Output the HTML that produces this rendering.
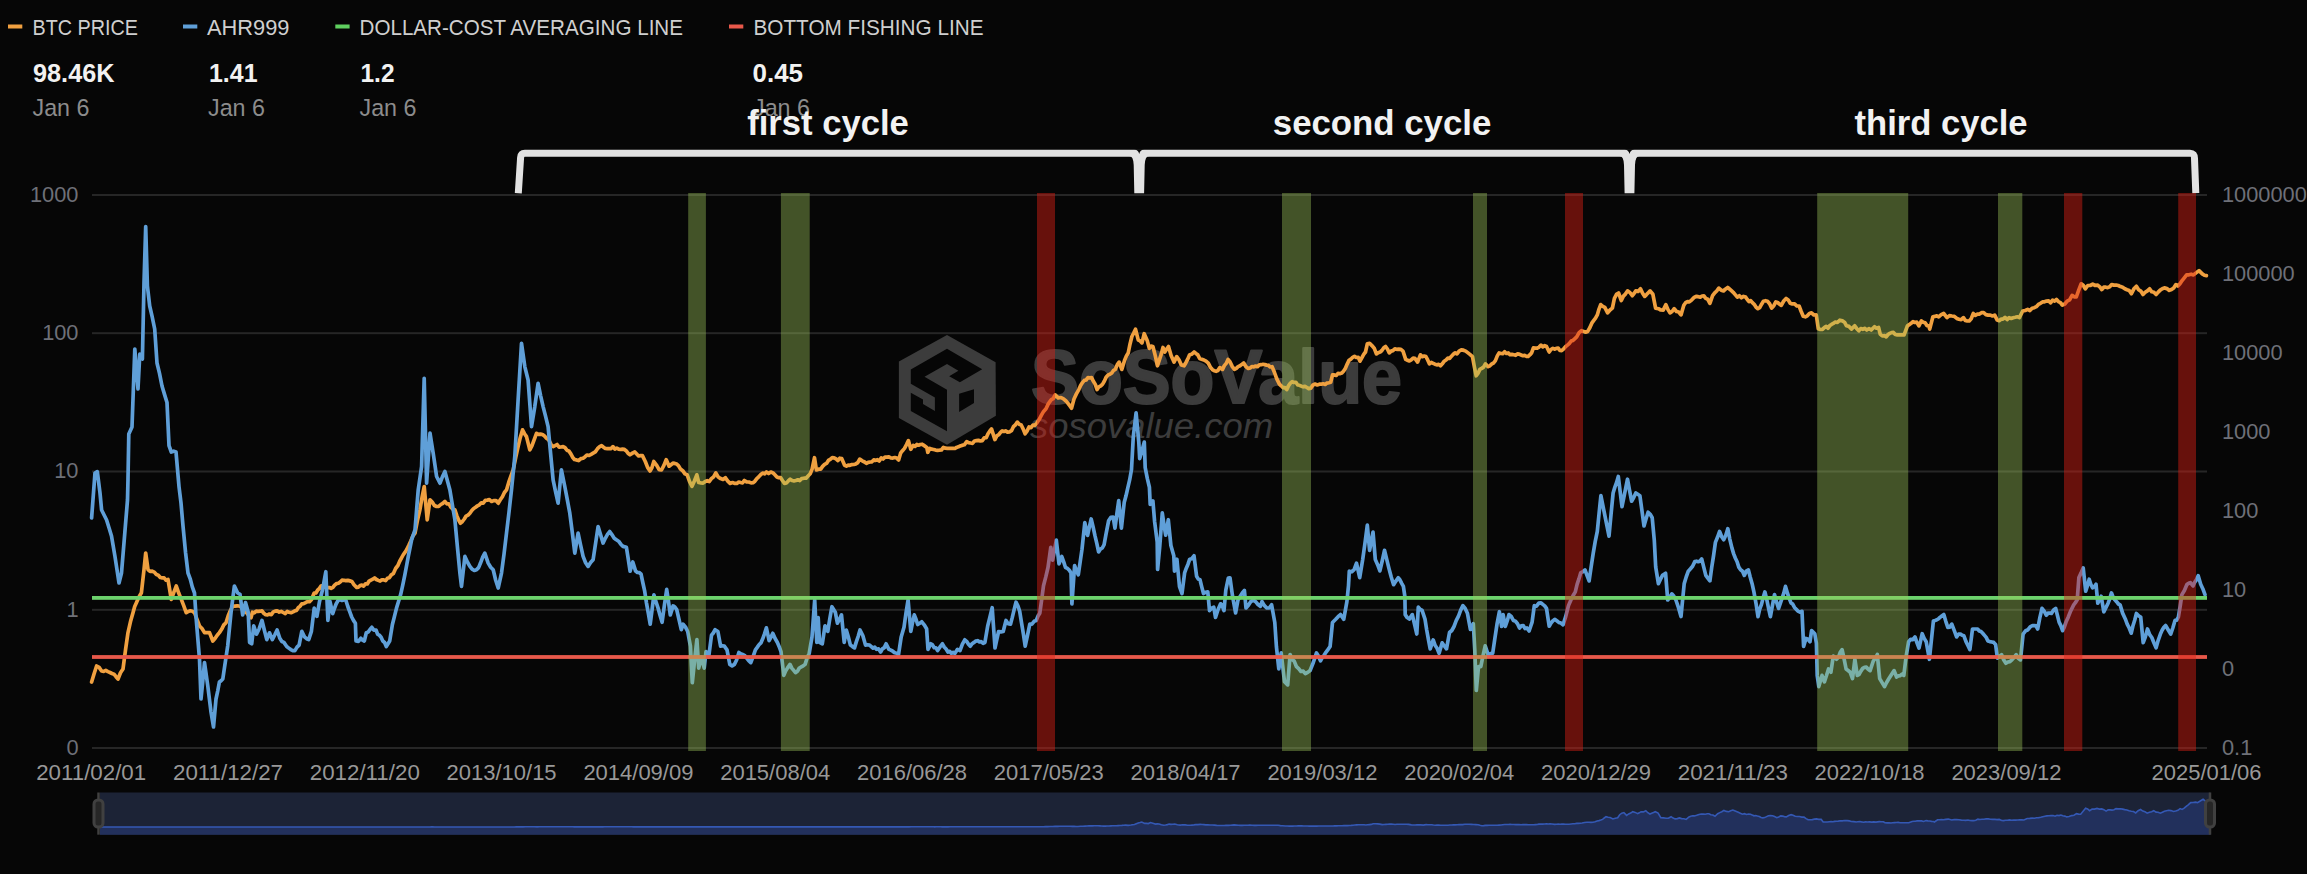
<!DOCTYPE html>
<html><head><meta charset="utf-8"><style>
html,body{margin:0;padding:0;background:#060606;width:2307px;height:874px;overflow:hidden}
svg{display:block}
text{font-family:"Liberation Sans", sans-serif}
</style></head><body>
<svg width="2307" height="874" viewBox="0 0 2307 874">
<rect width="2307" height="874" fill="#060606"/>

<rect x="8" y="24.5" width="14.3" height="4" fill="#f0a040"/>
<text x="32.5" y="34.6" font-size="22.6" font-weight="400" font-style="normal" fill="#cfcfcf" text-anchor="start" textLength="105.5" lengthAdjust="spacingAndGlyphs" >BTC PRICE</text>
<rect x="183" y="24.5" width="14.3" height="4" fill="#5f9fd8"/>
<text x="207" y="34.6" font-size="22.6" font-weight="400" font-style="normal" fill="#cfcfcf" text-anchor="start" textLength="82.5" lengthAdjust="spacingAndGlyphs" >AHR999</text>
<rect x="335.3" y="24.5" width="14.3" height="4" fill="#5fcf5f"/>
<text x="359.5" y="34.6" font-size="22.6" font-weight="400" font-style="normal" fill="#cfcfcf" text-anchor="start" textLength="323.5" lengthAdjust="spacingAndGlyphs" >DOLLAR-COST AVERAGING LINE</text>
<rect x="729" y="24.5" width="14.3" height="4" fill="#e8584a"/>
<text x="753.5" y="34.6" font-size="22.6" font-weight="400" font-style="normal" fill="#cfcfcf" text-anchor="start" textLength="230.0" lengthAdjust="spacingAndGlyphs" >BOTTOM FISHING LINE</text>
<text x="33" y="82.2" font-size="25.2" font-weight="700" font-style="normal" fill="#f2f2f2" text-anchor="start" textLength="81.5" lengthAdjust="spacingAndGlyphs" >98.46K</text>
<text x="209" y="82.2" font-size="25.2" font-weight="700" font-style="normal" fill="#f2f2f2" text-anchor="start" textLength="48.5" lengthAdjust="spacingAndGlyphs" >1.41</text>
<text x="360.5" y="82.2" font-size="25.2" font-weight="700" font-style="normal" fill="#f2f2f2" text-anchor="start" textLength="34" lengthAdjust="spacingAndGlyphs" >1.2</text>
<text x="752.5" y="82.2" font-size="25.2" font-weight="700" font-style="normal" fill="#f2f2f2" text-anchor="start" textLength="50.5" lengthAdjust="spacingAndGlyphs" >0.45</text>
<text x="32.5" y="116.3" font-size="24.5" font-weight="400" font-style="normal" fill="#8c8c8c" text-anchor="start" textLength="57" lengthAdjust="spacingAndGlyphs" >Jan 6</text>
<text x="208" y="116.3" font-size="24.5" font-weight="400" font-style="normal" fill="#8c8c8c" text-anchor="start" textLength="57" lengthAdjust="spacingAndGlyphs" >Jan 6</text>
<text x="359.5" y="116.3" font-size="24.5" font-weight="400" font-style="normal" fill="#8c8c8c" text-anchor="start" textLength="57" lengthAdjust="spacingAndGlyphs" >Jan 6</text>
<text x="753" y="116.3" font-size="24.5" font-weight="400" font-style="normal" fill="#8c8c8c" text-anchor="start" textLength="57" lengthAdjust="spacingAndGlyphs" >Jan 6</text>
<text x="747.2" y="135" font-size="35" font-weight="700" font-style="normal" fill="#f2f2f2" text-anchor="start" textLength="161.69999999999993" lengthAdjust="spacingAndGlyphs" >first cycle</text>
<text x="1272.8" y="135" font-size="35" font-weight="700" font-style="normal" fill="#f2f2f2" text-anchor="start" textLength="218.5" lengthAdjust="spacingAndGlyphs" >second cycle</text>
<text x="1854.5" y="135" font-size="35" font-weight="700" font-style="normal" fill="#f2f2f2" text-anchor="start" textLength="173.0" lengthAdjust="spacingAndGlyphs" >third cycle</text>
<path d="M518.3 193.2 L520.6 157.5 Q520.9 153.2 524.8 153.2 L2190 153.2 Q2194.6 153.2 2194.5 158.5 L2195.8 193.2" fill="none" stroke="#e2e2e2" stroke-width="7"/>
<path d="M1129.2 156 Q1133.4 156 1133.7 165 L1134.3 193.2 L1144.1000000000001 193.2 L1144.7 165 Q1145.0 156 1149.2 156 Z" fill="#e2e2e2"/>
<path d="M1134.2 149.2 Q1138.2 149.6 1139.2 154 Q1140.2 149.6 1144.2 149.2 Z" fill="#060606"/>
<path d="M1619.5 156 Q1623.7 156 1624.0 165 L1624.6 193.2 L1634.4 193.2 L1635.0 165 Q1635.3 156 1639.5 156 Z" fill="#e2e2e2"/>
<path d="M1624.5 149.2 Q1628.5 149.6 1629.5 154 Q1630.5 149.6 1634.5 149.2 Z" fill="#060606"/>
<rect x="92" y="194" width="2115" height="2" fill="#262626"/>
<rect x="92" y="332.2" width="2115" height="2" fill="#262626"/>
<rect x="92" y="470.5" width="2115" height="2" fill="#262626"/>
<rect x="92" y="608.8" width="2115" height="2" fill="#262626"/>
<rect x="92" y="747" width="2115" height="2" fill="#262626"/>
<polygon points="947.0,335.1 995.6,362.2 995.9,415.7 947.0,444.7 898.9,417.9 898.9,361.4" fill="#3c3c3c"/>
<polygon points="947.0,348.8 982.2,369.3 959.9,382.2 949.2,376.3 958.4,370.8 947.0,364.0 924.5,376.7 947.0,389.7 947.0,431.3 910.8,410.9 910.8,392.7 923.0,399.6 923.0,404.1 934.9,410.9 934.9,397.6 910.8,383.7 910.8,369.6" fill="#060606"/>
<polygon points="959.1,393.7 974.0,389.2 974.0,403.1 959.1,412.0" fill="#060606"/>
<text x="1031" y="402.8" font-size="76" font-weight="700" font-style="normal" fill="#3c3c3c" text-anchor="start" textLength="371" lengthAdjust="spacingAndGlyphs" stroke="#3c3c3c" stroke-width="2.2" stroke-linejoin="round">SoSoValue</text>
<text x="1030" y="437.8" font-size="35" font-weight="400" font-style="italic" fill="#3c3c3c" text-anchor="start" textLength="243" lengthAdjust="spacingAndGlyphs" >sosovalue.com</text>
<path d="M91.6 682.0 L94.1 673.7 L96.6 666.0 L99.1 667.4 L101.6 671.0 L103.7 671.4 L105.8 670.4 L107.9 671.6 L110.0 672.5 L112.0 673.5 L114.0 674.2 L116.0 676.7 L118.0 679.0 L120.5 672.7 L123.0 669.0 L125.5 650.1 L128.0 632.6 L130.5 621.6 L133.0 612.7 L134.7 606.5 L136.4 602.8 L138.9 597.1 L141.4 592.8 L144.0 569.6 L145.7 553.0 L148.0 569.6 L150.1 571.5 L152.2 571.2 L154.3 572.1 L156.4 574.5 L158.3 575.2 L160.3 577.5 L162.2 577.8 L164.1 577.9 L166.1 580.2 L168.0 579.5 L171.3 599.4 L173.8 592.4 L176.3 586.0 L178.8 593.3 L181.3 599.4 L183.8 605.9 L186.2 612.7 L188.3 611.4 L190.3 610.8 L192.4 611.2 L194.5 612.7 L197.0 619.3 L199.5 626.0 L202.0 628.5 L204.5 632.6 L207.0 632.5 L209.5 632.6 L212.8 641.0 L215.0 638.5 L217.2 635.2 L219.4 632.6 L221.6 629.3 L223.8 624.9 L226.0 622.7 L228.2 615.7 L230.5 610.3 L232.7 606.0 L234.9 606.1 L237.2 605.8 L239.4 606.0 L241.3 607.3 L243.3 609.9 L245.2 611.7 L247.1 613.2 L249.1 616.3 L251.0 617.7 L252.4 612.2 L254.3 612.8 L256.2 611.2 L258.2 611.4 L260.1 611.2 L262.0 610.8 L263.8 613.3 L265.7 614.7 L267.5 614.9 L269.4 614.0 L271.3 614.7 L273.3 611.9 L275.2 611.1 L277.1 610.8 L279.2 612.1 L281.2 611.4 L283.2 612.5 L285.3 613.6 L287.2 611.4 L289.1 612.3 L291.1 612.7 L293.0 611.9 L294.9 610.8 L296.6 610.4 L298.4 607.4 L300.1 606.2 L301.8 603.9 L303.7 603.6 L305.6 602.7 L307.6 601.5 L309.5 601.7 L311.4 599.8 L314.2 593.0 L315.9 593.0 L317.6 590.2 L319.3 588.6 L321.0 586.1 L323.1 585.4 L325.1 587.0 L327.2 587.7 L329.3 587.5 L331.1 588.3 L332.9 587.4 L334.8 584.9 L336.6 583.6 L338.4 583.3 L340.2 582.0 L342.0 580.2 L343.9 580.3 L345.7 580.6 L347.8 580.3 L349.9 580.9 L351.9 581.5 L354.0 584.7 L356.7 587.5 L358.4 587.1 L360.1 585.6 L361.9 585.1 L363.6 586.1 L365.4 583.8 L367.3 584.0 L369.1 581.1 L370.9 580.1 L372.8 579.2 L374.6 577.9 L376.4 579.5 L378.3 580.4 L380.1 581.1 L381.9 579.8 L383.8 579.9 L385.6 580.6 L387.4 578.3 L389.3 577.8 L391.1 575.1 L393.4 573.4 L395.6 568.5 L397.9 565.5 L399.6 561.5 L401.4 558.2 L403.1 555.0 L404.9 552.4 L406.6 549.8 L408.7 545.6 L410.8 540.9 L412.9 535.9 L415.0 533.1 L417.4 520.7 L419.9 509.8 L422.0 497.6 L424.2 486.5 L427.2 519.8 L430.0 499.8 L432.2 502.0 L434.4 505.5 L436.6 506.5 L438.7 506.4 L440.8 504.5 L442.8 503.3 L444.9 501.5 L446.9 503.9 L448.9 503.9 L450.9 507.2 L452.9 509.2 L454.9 509.8 L456.8 515.6 L458.6 520.0 L460.5 523.2 L462.4 521.5 L464.3 519.0 L466.1 516.1 L468.0 515.1 L469.9 513.2 L471.8 510.5 L473.7 508.5 L475.6 507.3 L477.5 505.8 L479.4 504.8 L481.3 502.8 L483.2 503.2 L485.3 500.3 L487.4 500.1 L489.4 499.6 L491.5 501.5 L493.7 500.6 L496.0 500.5 L498.2 503.2 L500.3 499.8 L502.4 496.8 L504.4 492.5 L506.5 489.9 L508.7 482.4 L511.0 475.9 L513.2 469.9 L515.7 457.7 L518.1 446.6 L520.3 437.4 L522.5 429.9 L524.5 433.7 L526.5 436.6 L529.8 449.9 L532.0 445.6 L534.3 439.3 L536.5 433.3 L538.5 434.4 L540.5 434.1 L542.5 434.5 L544.5 436.0 L546.5 438.2 L548.7 439.8 L550.9 444.1 L553.1 446.6 L555.1 445.6 L557.1 444.5 L559.1 447.2 L561.1 447.0 L563.1 446.6 L565.0 447.7 L566.9 450.2 L568.8 450.9 L570.7 453.6 L572.6 457.2 L574.5 459.5 L576.4 459.9 L578.6 460.6 L580.9 458.6 L583.1 458.2 L585.1 456.7 L587.1 455.0 L589.1 455.5 L591.1 454.4 L593.1 453.2 L595.3 451.9 L597.5 448.7 L599.7 446.6 L601.6 445.6 L603.5 447.2 L605.4 448.5 L607.3 448.7 L609.2 448.6 L611.1 448.6 L613.0 446.6 L614.9 449.0 L616.8 448.1 L618.6 449.1 L620.5 449.5 L622.4 449.1 L624.2 449.4 L626.1 450.7 L628.0 453.2 L630.0 454.8 L632.9 452.9 L634.8 452.0 L636.7 454.0 L638.6 456.0 L640.5 455.6 L642.4 455.7 L645.3 461.5 L647.6 467.4 L650.0 471.0 L651.9 467.8 L653.8 461.5 L656.7 465.3 L659.1 469.6 L661.5 470.0 L663.9 465.4 L666.2 459.6 L669.1 466.2 L671.0 464.7 L672.9 463.2 L674.8 463.4 L676.7 464.0 L678.6 465.8 L680.5 469.1 L682.7 470.7 L685.0 473.9 L687.2 474.8 L689.6 481.7 L692.0 486.3 L694.4 481.0 L696.8 474.8 L698.7 482.5 L700.9 482.9 L703.1 483.1 L705.3 481.5 L707.2 480.7 L709.2 481.5 L711.4 478.7 L713.6 476.8 L715.8 472.9 L718.2 477.0 L720.6 478.6 L723.0 479.5 L725.4 477.7 L727.8 481.1 L730.1 483.4 L732.5 482.6 L734.9 483.4 L736.8 483.4 L738.7 482.0 L740.6 482.5 L742.5 482.9 L744.4 480.5 L746.6 481.8 L748.9 482.0 L751.1 482.9 L753.0 482.7 L754.9 481.2 L756.8 478.6 L758.7 476.9 L760.6 474.7 L762.6 473.1 L764.5 473.8 L766.4 472.0 L768.6 473.5 L770.8 472.0 L773.0 472.9 L774.9 474.8 L776.9 477.0 L778.8 477.7 L780.7 477.7 L782.6 480.7 L784.5 483.4 L786.4 482.9 L788.3 480.9 L790.2 479.2 L792.1 480.5 L794.0 480.8 L795.9 480.5 L797.9 479.8 L799.8 480.6 L801.7 478.6 L803.9 478.2 L806.1 478.1 L808.3 475.8 L810.2 473.8 L812.1 469.1 L814.5 457.7 L816.4 470.0 L818.5 469.2 L820.7 469.1 L822.6 466.4 L824.6 464.4 L826.5 463.4 L828.4 460.4 L830.3 459.3 L832.2 457.7 L834.1 457.8 L836.0 458.9 L837.9 460.5 L839.8 458.2 L841.7 458.6 L844.6 465.3 L846.4 466.1 L848.2 465.1 L850.0 465.3 L851.9 464.6 L853.9 464.5 L855.8 463.9 L857.8 462.6 L859.7 459.1 L862.2 460.8 L864.6 462.0 L866.4 463.4 L868.2 462.4 L870.1 462.0 L871.9 461.8 L873.7 459.9 L875.6 460.4 L877.4 459.7 L879.2 461.0 L881.2 457.9 L883.1 459.0 L885.0 457.1 L887.0 457.1 L888.9 456.8 L890.9 458.0 L892.8 458.1 L894.8 457.5 L896.7 458.1 L898.6 460.0 L900.6 453.2 L902.5 450.7 L904.5 448.4 L906.5 444.6 L908.4 440.6 L910.8 449.3 L913.2 445.4 L915.0 446.4 L916.8 444.5 L918.5 445.2 L920.3 444.5 L922.1 444.2 L923.9 445.4 L926.8 447.4 L927.8 452.3 L929.8 448.4 L931.7 449.2 L933.6 449.5 L935.6 450.1 L937.5 450.3 L939.5 450.2 L941.4 450.0 L943.4 447.4 L945.3 448.2 L947.3 448.4 L949.2 448.3 L951.2 448.4 L953.1 448.4 L954.9 448.5 L956.6 447.4 L958.4 446.8 L960.1 446.0 L961.9 445.4 L964.3 444.8 L966.7 441.6 L968.6 442.6 L970.6 443.0 L972.5 443.3 L974.5 441.0 L976.4 440.6 L978.4 440.3 L980.3 441.0 L982.3 440.6 L984.2 437.9 L986.2 437.7 L988.0 433.7 L989.7 431.2 L991.5 428.9 L994.9 439.6 L996.8 435.8 L998.8 434.7 L1000.5 432.4 L1002.2 430.9 L1003.9 431.5 L1005.6 430.9 L1007.5 432.1 L1009.5 431.8 L1011.5 430.7 L1013.4 426.7 L1015.3 425.0 L1017.3 422.1 L1019.2 424.2 L1021.2 425.0 L1023.1 428.9 L1025.1 433.8 L1027.0 431.1 L1029.0 427.0 L1031.0 427.7 L1032.9 425.0 L1034.8 425.4 L1036.8 423.1 L1039.1 419.6 L1041.3 415.4 L1043.6 411.4 L1046.0 408.7 L1048.4 403.6 L1051.3 399.7 L1053.2 398.7 L1055.2 394.9 L1058.2 397.8 L1061.0 397.5 L1063.5 398.9 L1066.0 401.0 L1067.8 403.1 L1069.7 405.7 L1071.5 408.2 L1074.0 399.0 L1076.4 393.9 L1078.8 389.6 L1080.6 385.6 L1082.5 382.6 L1084.3 380.4 L1086.1 380.0 L1087.9 377.7 L1089.8 377.9 L1091.6 377.7 L1093.4 381.3 L1095.3 384.4 L1097.1 389.6 L1098.9 386.8 L1100.8 385.8 L1102.6 384.1 L1104.4 381.0 L1106.3 376.9 L1108.1 374.9 L1109.9 374.3 L1111.8 373.0 L1113.6 370.3 L1115.4 369.3 L1117.3 364.6 L1119.1 362.1 L1121.8 369.4 L1124.6 360.3 L1126.4 356.0 L1128.2 353.0 L1130.1 343.7 L1131.9 336.5 L1133.7 333.0 L1135.5 329.2 L1138.3 340.1 L1140.2 340.9 L1142.0 342.9 L1144.2 333.7 L1147.4 341.1 L1149.3 348.4 L1151.1 346.1 L1152.9 346.5 L1155.2 355.4 L1157.5 365.8 L1159.3 360.1 L1161.2 354.4 L1163.0 347.5 L1164.8 352.0 L1166.7 349.0 L1168.5 346.5 L1171.2 355.7 L1174.0 362.1 L1176.7 356.6 L1179.0 359.8 L1181.3 364.9 L1184.1 365.8 L1185.9 362.7 L1187.8 358.9 L1189.6 354.8 L1191.8 354.2 L1194.1 352.0 L1195.9 353.4 L1197.8 354.8 L1199.6 358.4 L1201.7 359.2 L1203.9 360.0 L1206.0 361.2 L1208.3 363.2 L1210.6 367.6 L1212.4 369.6 L1214.3 370.8 L1216.1 371.3 L1217.9 370.6 L1219.8 367.6 L1222.5 369.4 L1224.3 365.6 L1226.2 363.4 L1228.0 359.4 L1230.1 362.0 L1232.3 366.6 L1234.4 369.4 L1236.3 368.3 L1238.1 366.6 L1240.0 365.8 L1241.8 364.4 L1243.7 363.0 L1246.0 366.8 L1248.3 368.5 L1250.1 367.9 L1252.0 366.5 L1253.8 366.9 L1255.7 366.0 L1257.5 366.7 L1259.3 364.9 L1261.2 364.7 L1263.0 364.3 L1264.8 364.6 L1266.6 365.1 L1268.4 365.3 L1270.3 367.0 L1272.1 366.7 L1274.4 372.3 L1276.7 378.6 L1279.4 384.1 L1281.2 385.8 L1283.1 387.7 L1284.9 387.6 L1286.7 389.6 L1288.6 385.6 L1290.4 383.2 L1292.2 381.7 L1294.1 382.4 L1295.9 382.3 L1297.7 385.0 L1299.5 385.3 L1301.4 386.2 L1303.2 386.8 L1305.0 386.4 L1306.9 387.5 L1308.7 388.6 L1310.8 388.1 L1313.0 384.9 L1315.1 384.1 L1317.2 384.9 L1319.4 384.2 L1321.5 384.1 L1323.3 383.8 L1325.2 384.4 L1327.0 383.1 L1328.9 382.7 L1330.7 382.2 L1332.5 374.9 L1334.3 374.9 L1336.2 375.5 L1338.0 373.4 L1339.8 373.7 L1341.7 373.1 L1343.5 371.3 L1345.3 368.5 L1347.2 364.1 L1349.0 360.3 L1350.8 359.2 L1352.7 357.3 L1354.5 356.3 L1356.3 357.5 L1358.2 357.3 L1360.0 361.2 L1361.8 357.8 L1363.7 354.3 L1365.5 352.0 L1367.3 343.8 L1369.6 343.3 L1371.9 345.6 L1374.2 348.2 L1376.4 353.9 L1378.2 352.7 L1380.1 352.1 L1381.9 350.5 L1383.8 347.8 L1385.6 346.5 L1387.4 349.0 L1389.3 352.9 L1391.1 351.1 L1392.9 350.6 L1394.8 348.9 L1396.6 349.3 L1398.7 349.2 L1400.9 349.4 L1403.0 351.1 L1405.7 359.4 L1407.5 360.2 L1409.4 361.0 L1411.2 359.9 L1413.1 358.2 L1414.9 358.4 L1417.6 362.1 L1420.4 354.8 L1422.2 356.7 L1424.1 356.0 L1425.9 356.6 L1427.7 359.9 L1429.5 363.9 L1431.3 362.4 L1433.2 363.3 L1435.0 364.2 L1436.8 364.9 L1438.7 364.4 L1440.5 365.8 L1442.3 363.8 L1444.2 361.2 L1446.0 360.0 L1447.9 358.1 L1449.7 358.4 L1451.5 356.2 L1453.3 354.3 L1455.2 352.8 L1457.0 353.9 L1459.1 351.1 L1461.3 349.9 L1463.4 350.2 L1465.7 351.1 L1468.0 352.9 L1470.2 354.6 L1472.5 356.6 L1474.3 366.5 L1476.2 375.8 L1478.1 373.1 L1479.9 369.4 L1481.7 368.4 L1483.6 367.1 L1485.4 363.9 L1488.1 366.7 L1489.9 365.8 L1491.8 363.9 L1493.6 363.0 L1495.4 360.6 L1497.3 355.9 L1499.1 352.9 L1500.9 353.5 L1502.7 353.7 L1504.6 351.7 L1506.4 353.5 L1508.2 352.9 L1510.0 354.7 L1511.9 354.4 L1513.7 354.8 L1515.6 355.3 L1517.4 353.9 L1519.2 354.1 L1521.1 355.0 L1522.9 355.7 L1524.7 355.4 L1526.5 356.3 L1528.2 356.4 L1530.0 354.7 L1531.7 352.7 L1533.4 347.9 L1535.3 348.1 L1537.2 348.1 L1539.1 347.1 L1541.0 345.1 L1542.8 346.8 L1544.7 345.7 L1546.5 346.5 L1549.2 352.0 L1551.0 349.5 L1552.9 348.3 L1554.7 349.2 L1556.4 348.3 L1558.2 348.1 L1559.9 350.5 L1561.6 350.6 L1563.7 348.8 L1565.7 346.5 L1567.5 345.1 L1569.4 343.4 L1571.2 341.0 L1573.0 340.4 L1574.9 338.6 L1576.7 336.9 L1579.1 332.7 L1581.5 330.7 L1583.6 331.4 L1585.6 332.2 L1587.7 331.4 L1589.8 327.8 L1591.8 323.2 L1593.6 320.7 L1595.5 318.2 L1597.3 314.9 L1599.0 309.1 L1600.7 304.6 L1602.8 306.4 L1604.8 307.4 L1607.6 312.9 L1610.0 310.0 L1612.4 308.1 L1614.4 298.4 L1616.5 294.4 L1618.6 293.0 L1621.3 300.5 L1623.4 296.1 L1625.4 294.1 L1627.5 290.9 L1629.9 292.5 L1632.3 295.7 L1634.0 293.5 L1635.7 290.9 L1638.1 291.4 L1640.5 288.8 L1642.6 293.3 L1644.7 296.4 L1646.5 294.6 L1648.3 292.7 L1650.1 290.9 L1652.9 294.3 L1655.6 308.1 L1658.4 308.7 L1660.8 310.0 L1663.2 310.1 L1665.9 304.6 L1668.0 309.6 L1670.0 312.9 L1672.1 311.5 L1674.2 308.7 L1676.5 311.5 L1678.7 312.0 L1681.0 314.9 L1683.8 305.3 L1685.6 302.7 L1687.5 301.7 L1689.3 301.9 L1691.6 300.1 L1693.8 297.7 L1696.1 296.4 L1698.2 296.7 L1700.3 297.1 L1702.1 296.0 L1703.9 295.9 L1705.7 298.4 L1707.8 299.3 L1709.9 303.3 L1712.6 295.7 L1714.7 292.9 L1716.7 291.0 L1718.8 288.1 L1721.2 290.2 L1723.6 290.9 L1725.7 288.9 L1727.7 287.5 L1729.5 289.0 L1731.4 290.6 L1733.2 292.3 L1735.2 294.6 L1737.3 297.1 L1739.4 295.7 L1741.4 297.8 L1743.5 296.4 L1745.6 297.1 L1747.3 299.5 L1749.0 301.6 L1750.7 300.6 L1752.4 302.6 L1754.2 304.3 L1756.1 307.3 L1757.9 308.7 L1759.7 307.7 L1761.6 304.2 L1763.4 301.2 L1765.5 300.7 L1767.5 301.2 L1769.6 303.7 L1771.7 308.1 L1773.8 305.7 L1775.8 301.9 L1777.6 302.5 L1779.5 304.2 L1781.3 305.3 L1783.7 301.0 L1786.1 298.4 L1788.2 299.9 L1790.2 303.2 L1792.3 303.9 L1794.6 303.9 L1796.8 306.0 L1799.1 306.0 L1801.2 311.5 L1803.2 316.3 L1805.3 316.8 L1807.3 315.8 L1809.4 313.5 L1811.5 312.9 L1813.9 315.0 L1816.3 314.9 L1818.3 328.7 L1820.4 329.5 L1822.5 329.3 L1824.3 327.6 L1826.2 326.4 L1828.0 328.2 L1829.8 325.6 L1831.5 324.4 L1833.3 323.4 L1835.3 322.0 L1837.4 322.5 L1839.9 320.2 L1842.4 320.9 L1844.5 322.2 L1846.5 325.8 L1849.0 326.4 L1851.4 329.1 L1854.7 325.8 L1856.8 328.7 L1858.8 330.8 L1860.7 328.6 L1862.7 329.3 L1864.6 328.3 L1866.8 330.0 L1869.0 328.7 L1871.2 330.0 L1874.5 326.7 L1876.5 328.2 L1878.6 327.5 L1880.2 334.1 L1882.3 336.0 L1884.4 335.7 L1886.2 336.8 L1888.0 334.5 L1889.8 333.4 L1891.6 332.6 L1893.4 332.4 L1895.3 334.5 L1897.3 334.9 L1899.2 334.9 L1901.7 334.8 L1904.1 334.9 L1907.4 325.8 L1909.2 324.7 L1911.1 323.3 L1913.0 321.6 L1914.8 322.5 L1916.8 322.2 L1918.9 325.8 L1921.4 320.9 L1923.2 322.2 L1925.1 322.8 L1927.0 325.6 L1928.8 325.8 L1929.7 329.1 L1932.9 316.8 L1934.8 316.4 L1936.8 315.8 L1938.7 316.8 L1941.2 314.7 L1943.7 313.5 L1947.0 317.6 L1949.5 315.6 L1951.9 316.0 L1954.3 316.3 L1956.8 318.4 L1959.0 319.2 L1961.2 319.6 L1963.4 317.6 L1965.3 320.4 L1967.3 321.0 L1969.2 320.9 L1971.2 318.7 L1973.3 313.5 L1975.3 315.4 L1977.4 314.2 L1979.5 314.1 L1981.5 312.7 L1983.7 312.7 L1985.9 314.6 L1988.1 315.1 L1990.3 315.1 L1992.5 316.0 L1994.7 315.1 L1997.2 320.1 L1999.1 320.7 L2001.0 319.2 L2002.9 319.2 L2005.0 317.4 L2007.1 319.5 L2009.1 317.7 L2011.2 318.4 L2013.2 317.7 L2015.3 317.3 L2017.4 316.8 L2019.4 317.6 L2022.7 311.0 L2025.2 310.5 L2027.7 309.4 L2029.9 310.5 L2032.1 308.2 L2034.3 307.7 L2036.3 306.7 L2038.4 304.4 L2040.5 303.3 L2042.5 301.9 L2044.5 301.8 L2046.6 301.1 L2048.6 300.9 L2050.7 302.8 L2052.6 300.1 L2054.6 301.1 L2056.5 299.5 L2058.4 301.6 L2060.4 302.6 L2062.3 305.2 L2064.8 304.0 L2067.2 301.1 L2069.6 299.9 L2072.1 295.4 L2074.2 296.8 L2076.3 297.0 L2078.8 289.9 L2081.2 283.8 L2083.2 285.3 L2085.3 288.8 L2087.8 285.5 L2090.2 285.5 L2092.7 284.2 L2095.2 285.5 L2097.4 285.1 L2099.6 286.7 L2101.8 289.6 L2103.8 287.2 L2105.8 287.2 L2107.7 287.6 L2109.7 286.8 L2111.7 284.6 L2113.9 285.1 L2116.1 285.0 L2118.3 285.5 L2120.5 286.6 L2122.6 287.3 L2124.8 288.8 L2127.0 289.8 L2129.2 290.5 L2131.4 293.7 L2133.9 288.8 L2136.4 286.3 L2138.6 289.7 L2140.8 291.1 L2143.0 294.5 L2145.2 292.3 L2147.4 290.9 L2149.6 288.8 L2151.8 291.8 L2153.9 292.3 L2156.1 294.5 L2158.2 292.1 L2160.2 290.1 L2162.3 288.8 L2164.4 287.9 L2166.9 288.6 L2169.3 290.4 L2171.5 289.5 L2173.7 288.0 L2175.9 284.6 L2177.9 286.1 L2180.0 283.8 L2182.1 280.6 L2184.1 278.1 L2186.6 274.9 L2189.0 274.8 L2191.2 274.2 L2193.5 274.9 L2195.7 273.1 L2199.0 270.6 L2202.3 273.9 L2204.4 275.2 L2206.4 275.6" fill="none" stroke="#f0a040" stroke-width="3.7" stroke-linejoin="round" stroke-linecap="round"/>
<path d="M91.6 518.0 L93.3 495.3 L95.0 473.0 L97.3 471.6 L100.0 493.0 L101.6 510.0 L104.1 515.0 L106.6 520.0 L109.0 527.7 L111.5 536.0 L113.2 546.0 L114.9 556.0 L117.0 569.7 L119.0 583.0 L121.5 573.0 L124.8 533.0 L127.5 500.0 L128.0 479.0 L128.8 434.0 L132.0 427.0 L134.8 349.0 L138.0 389.0 L139.8 354.0 L142.4 359.0 L144.0 283.0 L145.7 226.5 L147.4 286.0 L149.7 306.0 L152.2 316.9 L154.7 329.0 L157.0 363.0 L159.5 373.4 L162.0 386.0 L164.5 394.4 L167.0 402.5 L169.0 445.6 L171.3 452.0 L173.7 451.2 L176.0 452.0 L179.0 486.6 L181.0 503.0 L183.0 526.0 L185.6 553.0 L188.0 573.0 L190.2 578.8 L192.3 586.9 L194.5 593.0 L196.2 619.0 L199.5 659.0 L201.0 699.0 L202.8 681.0 L204.5 662.5 L207.8 686.0 L211.0 712.0 L213.5 727.0 L216.0 699.0 L217.7 691.1 L219.4 682.0 L221.1 680.7 L222.8 679.0 L225.2 662.8 L227.7 646.0 L231.0 612.7 L232.7 599.1 L234.4 586.0 L237.7 593.0 L240.0 594.3 L242.7 614.9 L245.5 602.6 L248.2 612.2 L249.6 642.4 L251.7 643.8 L253.7 625.9 L256.5 634.2 L259.2 628.7 L262.0 620.4 L264.0 628.7 L266.8 639.6 L269.5 632.8 L272.3 639.6 L274.7 635.0 L277.1 630.0 L279.8 638.3 L281.9 641.5 L283.9 642.4 L286.7 646.5 L288.8 648.1 L290.8 649.6 L292.8 650.6 L294.9 650.6 L297.0 647.1 L299.1 645.1 L301.8 631.4 L304.5 636.9 L306.6 638.7 L308.7 639.6 L311.4 631.4 L314.2 608.1 L316.9 616.3 L319.6 601.2 L322.4 590.2 L324.1 581.3 L325.8 571.7 L327.9 620.4 L329.9 601.2 L332.7 613.6 L334.4 608.5 L336.1 604.0 L338.1 600.4 L340.2 599.8 L342.0 600.5 L343.9 600.0 L345.7 599.8 L347.8 606.5 L349.9 612.2 L351.7 617.0 L353.6 620.6 L355.4 623.2 L356.0 641.0 L358.4 641.4 L360.8 638.3 L362.6 640.1 L364.3 641.0 L366.3 632.8 L368.1 632.1 L370.0 629.5 L371.8 627.3 L373.9 630.1 L376.0 630.0 L377.7 634.4 L379.4 635.2 L381.1 637.2 L382.8 641.0 L384.6 642.5 L386.3 646.5 L389.7 641.0 L392.4 624.5 L394.4 616.6 L396.5 608.1 L398.6 601.2 L400.7 594.3 L402.8 584.9 L404.8 575.1 L406.6 565.5 L408.3 556.4 L411.6 539.8 L415.0 529.8 L418.2 490.0 L419.9 478.2 L421.6 466.5 L424.2 378.3 L426.6 483.2 L430.0 433.0 L433.2 453.2 L434.9 464.7 L436.6 476.5 L440.0 483.2 L442.4 476.9 L444.9 471.5 L447.4 480.7 L449.9 490.0 L452.4 505.0 L454.9 519.8 L457.4 546.8 L459.9 573.0 L461.5 586.4 L464.9 556.4 L467.4 562.0 L469.9 566.4 L472.1 569.2 L474.3 570.5 L476.5 569.8 L478.6 567.6 L480.6 562.8 L482.7 557.1 L484.8 553.1 L488.2 563.1 L490.7 567.3 L493.2 569.8 L495.7 580.2 L498.2 588.0 L501.5 573.1 L504.0 554.2 L506.5 533.1 L509.0 512.1 L511.5 489.9 L514.8 456.5 L518.1 400.0 L521.5 343.3 L524.8 366.6 L528.1 380.0 L531.5 426.6 L534.8 406.6 L538.1 383.3 L540.6 395.6 L543.1 406.6 L545.6 416.4 L548.1 426.6 L550.6 453.5 L553.1 479.9 L555.6 491.8 L558.1 503.2 L561.4 469.9 L564.8 486.5 L567.3 499.6 L569.8 513.2 L572.3 532.5 L574.8 553.1 L578.1 533.1 L580.6 545.1 L583.1 556.4 L585.6 562.7 L588.1 566.4 L590.6 562.6 L593.1 559.8 L595.6 543.3 L598.1 526.5 L600.6 534.7 L603.1 543.1 L605.3 538.3 L607.5 534.4 L609.7 531.5 L611.9 534.6 L614.2 538.2 L616.4 539.8 L618.6 541.2 L620.8 544.2 L623.0 546.4 L626.4 547.3 L628.2 558.6 L630.1 571.1 L632.8 562.0 L635.6 571.1 L637.4 572.4 L639.2 572.6 L641.0 573.9 L642.9 583.0 L644.7 591.2 L646.5 603.1 L648.4 613.6 L650.2 624.2 L652.0 610.3 L653.9 594.9 L656.0 601.7 L658.0 607.8 L660.0 615.3 L662.1 622.3 L664.4 605.2 L666.7 589.4 L668.5 601.5 L670.3 615.0 L673.1 605.9 L674.9 607.1 L676.7 609.5 L679.0 619.5 L681.3 629.7 L683.1 624.2 L685.4 626.9 L687.7 631.5 L690.4 646.1 L692.3 682.7 L694.6 660.3 L696.9 639.7 L698.7 668.1 L701.4 657.1 L704.2 668.1 L706.0 651.6 L708.7 657.1 L711.5 635.2 L713.3 633.0 L715.1 629.7 L717.9 631.5 L720.6 646.1 L722.5 645.7 L724.3 646.1 L727.0 649.8 L729.8 664.4 L732.1 665.9 L734.4 664.4 L736.6 660.0 L738.9 652.5 L740.7 653.7 L742.6 654.4 L744.4 655.3 L746.5 657.8 L748.7 660.6 L750.8 662.6 L753.1 656.6 L755.4 649.8 L757.2 647.4 L759.0 644.8 L760.9 642.9 L762.7 638.8 L764.5 633.9 L766.4 627.8 L769.1 640.6 L771.0 637.1 L772.8 633.3 L775.1 638.5 L777.4 642.5 L779.2 646.7 L781.0 651.6 L783.8 675.4 L785.6 671.1 L787.4 668.1 L790.0 664.4 L791.8 668.1 L793.7 670.4 L795.5 672.6 L797.4 671.3 L799.3 668.0 L801.3 666.9 L803.2 665.9 L805.1 664.4 L807.2 657.8 L809.2 653.4 L812.0 636.9 L814.7 599.8 L816.8 642.4 L818.2 617.7 L819.5 642.4 L822.3 643.8 L825.0 625.9 L827.8 631.4 L829.8 618.7 L831.9 606.7 L835.3 612.2 L837.4 623.2 L839.5 619.2 L841.5 614.9 L844.2 642.4 L846.3 630.0 L848.3 636.8 L850.4 645.1 L852.5 646.6 L854.5 647.9 L856.3 641.9 L858.2 636.3 L860.0 630.0 L862.8 635.5 L865.5 645.1 L867.5 644.7 L869.6 645.1 L871.3 646.6 L873.0 648.2 L874.8 647.2 L876.5 649.3 L878.5 648.8 L880.6 652.0 L882.4 648.9 L884.3 647.6 L886.1 643.8 L888.9 649.3 L890.8 650.1 L892.7 651.2 L894.7 652.8 L896.6 653.2 L898.5 654.8 L901.2 636.9 L904.0 627.3 L906.0 613.1 L908.1 599.8 L910.8 631.4 L912.5 622.7 L914.3 614.9 L916.0 619.2 L917.7 624.5 L919.8 623.2 L921.8 621.8 L924.2 624.8 L926.6 628.7 L928.0 649.3 L930.8 643.8 L932.5 644.9 L934.2 647.7 L935.9 647.8 L937.6 650.6 L940.0 646.9 L942.4 643.8 L944.2 647.0 L946.1 649.0 L947.9 652.0 L949.6 651.3 L951.3 653.3 L953.1 652.4 L954.8 653.4 L957.5 649.3 L960.0 650.6 L962.4 644.2 L964.8 639.8 L966.6 641.3 L968.5 644.3 L970.3 646.2 L972.1 643.7 L974.0 642.4 L975.8 641.1 L977.6 640.7 L979.4 641.8 L981.2 641.7 L983.1 643.3 L984.9 642.5 L987.7 626.0 L990.0 616.8 L992.2 607.7 L995.0 648.0 L996.8 639.5 L998.6 631.5 L1000.9 631.9 L1003.2 631.5 L1006.0 620.5 L1008.2 623.7 L1010.5 624.2 L1012.3 617.4 L1014.2 609.3 L1016.0 602.2 L1017.9 605.8 L1019.7 611.4 L1021.5 622.6 L1023.4 634.0 L1025.2 646.2 L1027.5 635.4 L1029.8 624.2 L1031.9 624.1 L1034.1 621.3 L1036.2 620.5 L1038.0 616.1 L1039.8 613.2 L1041.7 599.6 L1043.5 585.8 L1045.8 576.9 L1048.0 567.5 L1050.8 547.3 L1052.6 560.1 L1054.4 550.6 L1056.3 540.0 L1059.0 563.8 L1061.8 556.5 L1063.7 561.9 L1065.5 567.5 L1067.3 568.2 L1069.2 570.1 L1071.0 573.0 L1071.9 604.0 L1074.6 565.6 L1076.4 570.4 L1078.3 574.8 L1080.2 561.8 L1082.0 549.2 L1084.8 522.6 L1087.6 535.4 L1089.4 526.8 L1091.2 519.0 L1093.1 526.9 L1094.9 535.4 L1096.8 543.4 L1098.6 551.9 L1100.4 549.1 L1102.3 548.0 L1104.1 544.6 L1106.3 532.6 L1108.6 520.8 L1110.9 517.4 L1113.2 517.1 L1115.0 528.1 L1116.8 514.3 L1118.7 500.7 L1121.4 528.1 L1124.2 502.5 L1126.0 495.8 L1127.8 487.8 L1129.7 479.7 L1131.5 469.5 L1133.3 436.6 L1136.1 412.8 L1138.8 442.1 L1139.7 458.6 L1142.0 450.7 L1144.3 442.1 L1145.2 467.7 L1147.3 478.4 L1149.4 487.2 L1150.2 504.3 L1152.9 500.9 L1154.6 521.5 L1157.2 542.0 L1157.6 569.5 L1159.7 547.2 L1162.3 512.9 L1164.0 525.0 L1165.7 535.2 L1168.3 519.7 L1170.9 545.5 L1173.8 555.8 L1174.5 571.2 L1176.9 559.2 L1179.5 586.6 L1182.0 593.5 L1184.6 572.9 L1186.3 568.2 L1188.0 564.2 L1189.7 559.2 L1191.8 558.7 L1194.0 555.8 L1196.6 576.3 L1198.3 579.1 L1200.0 579.8 L1201.8 587.1 L1203.5 593.5 L1205.7 592.2 L1207.8 591.8 L1209.5 610.6 L1211.7 608.2 L1213.8 607.2 L1215.5 617.5 L1218.0 609.8 L1220.6 603.8 L1222.3 605.8 L1224.0 610.6 L1225.8 590.1 L1228.3 578.1 L1230.0 577.8 L1232.4 595.2 L1235.6 612.9 L1238.0 600.0 L1240.1 596.4 L1242.3 592.9 L1244.4 590.4 L1246.0 608.0 L1248.4 605.3 L1250.8 601.6 L1253.2 600.2 L1255.6 601.6 L1258.0 604.5 L1260.4 606.4 L1262.0 601.6 L1264.4 605.6 L1266.8 608.0 L1269.2 608.0 L1271.6 604.8 L1274.8 622.5 L1276.4 646.5 L1278.8 668.9 L1281.2 652.9 L1284.5 681.7 L1287.7 684.9 L1290.1 654.5 L1292.1 659.5 L1294.1 660.9 L1296.5 666.7 L1298.9 668.9 L1301.0 671.5 L1303.2 671.1 L1305.3 673.7 L1307.7 672.4 L1310.1 670.5 L1313.3 662.5 L1316.5 652.9 L1318.5 656.2 L1320.5 660.9 L1322.4 657.2 L1324.2 655.1 L1326.1 652.1 L1328.1 649.4 L1330.1 646.5 L1332.5 622.5 L1335.7 619.3 L1338.1 616.7 L1340.5 614.5 L1343.7 619.3 L1346.9 601.6 L1348.5 585.6 L1349.3 571.2 L1351.7 571.8 L1354.1 569.6 L1356.5 563.2 L1359.7 577.6 L1362.7 559.5 L1365.0 543.1 L1367.3 525.2 L1369.6 550.3 L1371.3 541.2 L1373.0 532.0 L1375.3 559.5 L1377.6 564.7 L1379.9 570.9 L1382.2 561.0 L1384.5 550.3 L1386.8 559.6 L1389.0 568.6 L1391.3 577.3 L1393.6 584.7 L1395.9 581.1 L1398.2 577.8 L1399.9 579.8 L1401.7 583.3 L1403.4 586.4 L1404.9 596.8 L1405.2 614.6 L1407.2 617.6 L1409.3 619.1 L1412.3 614.6 L1414.5 624.1 L1416.8 634.0 L1418.3 607.2 L1420.2 609.5 L1422.0 610.2 L1425.0 619.1 L1426.7 630.0 L1428.5 639.9 L1430.2 648.9 L1433.2 639.9 L1435.2 645.5 L1437.1 648.2 L1439.1 653.3 L1442.1 642.9 L1444.3 646.0 L1446.5 648.9 L1449.5 632.5 L1451.8 630.5 L1454.0 626.5 L1456.2 620.7 L1458.5 616.1 L1460.7 610.1 L1462.9 605.7 L1465.2 608.5 L1467.4 613.2 L1470.4 629.5 L1473.3 623.6 L1474.8 650.4 L1476.3 690.5 L1478.5 666.7 L1480.8 666.7 L1483.0 655.9 L1485.2 645.9 L1488.2 654.8 L1490.5 653.6 L1492.7 653.3 L1494.9 638.2 L1497.1 623.6 L1499.4 611.7 L1501.6 626.5 L1503.1 614.6 L1505.3 626.5 L1507.2 621.0 L1509.0 614.6 L1511.2 616.5 L1513.5 620.6 L1515.5 621.3 L1517.5 623.7 L1519.5 628.0 L1521.3 625.8 L1523.2 625.5 L1525.1 628.6 L1526.9 628.0 L1529.1 631.0 L1532.1 622.1 L1534.3 605.7 L1536.5 606.2 L1538.8 603.1 L1541.0 602.9 L1542.8 604.4 L1544.7 605.9 L1546.5 608.4 L1549.2 626.2 L1551.0 623.1 L1552.9 620.8 L1554.7 619.3 L1556.8 620.8 L1558.8 622.4 L1560.9 623.1 L1563.0 624.8 L1565.7 616.6 L1568.5 605.6 L1570.8 600.2 L1573.0 595.7 L1575.3 591.9 L1577.1 584.4 L1579.0 578.7 L1580.8 572.6 L1582.9 571.7 L1585.0 569.9 L1587.0 575.4 L1589.1 580.9 L1591.2 566.6 L1593.2 553.4 L1595.2 541.6 L1597.3 531.4 L1599.1 513.1 L1600.9 495.7 L1604.2 512.2 L1606.6 524.2 L1609.0 536.2 L1611.0 514.9 L1613.1 493.0 L1614.8 487.4 L1616.6 482.5 L1618.3 476.5 L1620.2 492.0 L1622.0 506.7 L1623.8 497.6 L1625.7 488.2 L1627.5 479.2 L1629.5 490.1 L1631.6 501.2 L1633.7 497.6 L1635.8 493.0 L1637.8 494.3 L1639.9 495.7 L1642.0 511.0 L1644.0 525.9 L1646.0 519.1 L1648.1 512.2 L1650.2 514.3 L1652.2 517.7 L1654.3 540.3 L1655.7 567.0 L1658.4 583.6 L1660.5 579.2 L1662.5 575.3 L1665.6 573.3 L1667.7 600.0 L1669.8 597.4 L1671.8 593.9 L1673.8 596.0 L1675.9 600.0 L1678.5 607.7 L1681.0 616.5 L1684.2 583.6 L1686.2 577.0 L1688.3 571.2 L1690.5 568.8 L1692.6 566.3 L1694.8 561.6 L1696.5 561.2 L1698.2 561.7 L1700.0 561.2 L1701.7 558.9 L1703.8 567.4 L1705.8 575.4 L1707.8 578.2 L1709.9 580.9 L1711.7 567.6 L1713.6 555.4 L1715.4 542.4 L1717.5 537.3 L1719.6 531.4 L1721.7 536.7 L1723.7 539.7 L1725.8 535.3 L1727.8 528.7 L1729.8 539.1 L1731.9 547.9 L1733.6 553.6 L1735.3 558.0 L1737.1 561.7 L1738.8 567.1 L1740.6 569.8 L1742.5 571.3 L1744.3 575.4 L1746.3 571.1 L1748.4 569.9 L1750.2 577.0 L1752.1 583.7 L1753.9 591.9 L1756.0 603.3 L1758.0 616.6 L1759.7 609.2 L1761.5 604.4 L1763.2 597.5 L1764.9 591.9 L1766.7 599.1 L1768.6 608.5 L1770.4 616.6 L1772.5 605.1 L1774.5 594.6 L1776.5 601.9 L1778.6 608.4 L1780.3 603.4 L1782.0 598.3 L1783.8 593.2 L1785.5 586.4 L1787.3 592.7 L1789.2 598.4 L1791.0 602.9 L1792.7 604.1 L1794.5 607.4 L1796.2 609.2 L1797.9 611.1 L1800.0 612.1 L1802.0 611.3 L1803.6 646.5 L1806.0 638.5 L1808.0 639.3 L1810.0 641.7 L1811.6 630.5 L1814.8 633.7 L1816.4 643.3 L1817.2 675.4 L1818.8 686.6 L1822.0 675.4 L1824.4 681.8 L1826.5 675.5 L1828.5 669.0 L1830.9 672.2 L1833.3 656.1 L1836.5 659.3 L1838.4 657.3 L1840.2 652.3 L1842.1 649.7 L1844.1 658.8 L1846.1 669.0 L1848.1 670.5 L1850.1 672.2 L1852.5 678.6 L1854.9 659.3 L1857.3 675.4 L1859.1 674.3 L1860.9 671.1 L1862.7 668.4 L1864.5 667.4 L1866.4 667.2 L1868.2 669.3 L1870.1 670.6 L1873.3 661.0 L1875.3 658.3 L1877.3 654.5 L1879.7 678.6 L1882.1 682.6 L1884.5 686.6 L1886.6 682.5 L1888.8 678.7 L1890.9 675.4 L1894.1 670.6 L1896.6 677.0 L1898.4 675.9 L1900.2 675.6 L1902.0 674.1 L1903.8 675.4 L1906.2 656.1 L1908.6 641.7 L1910.7 639.3 L1912.9 639.6 L1915.0 636.9 L1917.0 642.8 L1919.0 648.1 L1922.2 633.7 L1924.2 638.4 L1926.2 641.7 L1929.4 659.3 L1931.4 640.1 L1933.4 620.9 L1935.1 620.4 L1936.9 619.8 L1938.6 618.7 L1940.3 617.1 L1942.1 615.7 L1943.8 614.5 L1945.8 621.3 L1947.8 627.3 L1949.8 627.1 L1951.8 624.1 L1954.2 630.4 L1956.6 636.9 L1958.5 634.2 L1960.5 634.1 L1962.2 635.2 L1963.9 635.8 L1965.9 641.4 L1967.9 645.5 L1969.9 649.6 L1972.5 629.0 L1975.0 629.0 L1977.6 629.0 L1979.3 630.9 L1981.0 631.5 L1982.7 633.3 L1984.5 635.4 L1986.2 637.4 L1987.9 641.0 L1989.8 641.6 L1991.8 642.0 L1993.7 642.4 L1995.6 644.4 L1997.4 658.1 L1999.5 656.4 L2001.6 654.7 L2003.8 660.1 L2005.9 663.3 L2007.9 662.0 L2009.9 661.6 L2011.9 659.9 L2014.1 657.3 L2016.2 654.7 L2018.3 658.3 L2020.5 659.9 L2023.1 634.1 L2025.7 630.7 L2028.0 629.7 L2030.2 626.8 L2032.5 625.5 L2034.2 625.6 L2036.0 625.9 L2037.7 629.0 L2039.8 617.8 L2042.0 608.4 L2044.2 611.1 L2046.3 615.2 L2048.0 613.2 L2049.7 613.0 L2051.4 613.5 L2053.6 610.0 L2055.7 608.4 L2057.4 615.3 L2059.1 622.1 L2060.8 625.6 L2062.6 630.7 L2064.3 627.1 L2066.0 622.1 L2068.2 617.2 L2070.3 611.8 L2073.7 604.9 L2075.4 602.7 L2077.2 599.8 L2078.9 577.5 L2081.1 572.9 L2083.2 568.0 L2085.7 591.2 L2087.4 585.9 L2089.2 579.2 L2090.9 584.5 L2092.6 587.8 L2094.3 586.7 L2096.0 584.3 L2097.8 603.2 L2101.2 596.3 L2103.8 611.8 L2105.9 607.7 L2108.1 603.2 L2109.8 598.6 L2111.5 592.9 L2113.2 597.5 L2114.9 599.8 L2116.6 601.7 L2118.4 604.0 L2120.1 604.9 L2122.6 613.1 L2125.2 618.7 L2127.2 624.1 L2129.2 628.0 L2131.2 633.2 L2132.9 626.0 L2134.7 620.2 L2136.4 613.5 L2138.6 615.8 L2140.7 617.0 L2143.2 642.7 L2145.3 637.0 L2147.5 629.0 L2149.7 634.6 L2151.8 637.5 L2153.9 642.7 L2156.1 647.8 L2158.2 640.3 L2160.4 634.1 L2162.1 630.3 L2163.9 627.2 L2165.6 625.5 L2168.1 629.8 L2170.7 634.1 L2172.8 628.0 L2175.0 620.4 L2176.7 620.2 L2178.4 617.0 L2180.2 606.1 L2181.9 594.6 L2184.4 590.5 L2187.0 584.3 L2188.7 583.3 L2190.4 582.6 L2193.0 586.0 L2194.7 582.3 L2196.5 579.6 L2198.2 575.7 L2200.7 584.3 L2202.8 588.7 L2205.0 594.6" fill="none" stroke="#5f9fd8" stroke-width="3.7" stroke-linejoin="round" stroke-linecap="round"/>
<text x="78.5" y="201.9" font-size="21.8" font-weight="400" font-style="normal" fill="#6e7078" text-anchor="end" >1000</text>
<text x="78.5" y="340.2" font-size="21.8" font-weight="400" font-style="normal" fill="#6e7078" text-anchor="end" >100</text>
<text x="78.5" y="478.4" font-size="21.8" font-weight="400" font-style="normal" fill="#6e7078" text-anchor="end" >10</text>
<text x="78.5" y="616.6999999999999" font-size="21.8" font-weight="400" font-style="normal" fill="#6e7078" text-anchor="end" >1</text>
<text x="78.5" y="754.9" font-size="21.8" font-weight="400" font-style="normal" fill="#6e7078" text-anchor="end" >0</text>
<text x="2222" y="201.9" font-size="21.8" font-weight="400" font-style="normal" fill="#6e7078" text-anchor="start" >1000000</text>
<text x="2222" y="280.9" font-size="21.8" font-weight="400" font-style="normal" fill="#6e7078" text-anchor="start" >100000</text>
<text x="2222" y="359.9" font-size="21.8" font-weight="400" font-style="normal" fill="#6e7078" text-anchor="start" >10000</text>
<text x="2222" y="438.9" font-size="21.8" font-weight="400" font-style="normal" fill="#6e7078" text-anchor="start" >1000</text>
<text x="2222" y="517.9" font-size="21.8" font-weight="400" font-style="normal" fill="#6e7078" text-anchor="start" >100</text>
<text x="2222" y="596.9" font-size="21.8" font-weight="400" font-style="normal" fill="#6e7078" text-anchor="start" >10</text>
<text x="2222" y="675.9" font-size="21.8" font-weight="400" font-style="normal" fill="#6e7078" text-anchor="start" >0</text>
<text x="2222" y="754.9" font-size="21.8" font-weight="400" font-style="normal" fill="#6e7078" text-anchor="start" >0.1</text>
<text x="91.2" y="780.2" font-size="21.5" font-weight="400" font-style="normal" fill="#989898" text-anchor="middle" textLength="110" lengthAdjust="spacingAndGlyphs" >2011/02/01</text>
<text x="228.0" y="780.2" font-size="21.5" font-weight="400" font-style="normal" fill="#989898" text-anchor="middle" textLength="110" lengthAdjust="spacingAndGlyphs" >2011/12/27</text>
<text x="364.8" y="780.2" font-size="21.5" font-weight="400" font-style="normal" fill="#989898" text-anchor="middle" textLength="110" lengthAdjust="spacingAndGlyphs" >2012/11/20</text>
<text x="501.6" y="780.2" font-size="21.5" font-weight="400" font-style="normal" fill="#989898" text-anchor="middle" textLength="110" lengthAdjust="spacingAndGlyphs" >2013/10/15</text>
<text x="638.4000000000001" y="780.2" font-size="21.5" font-weight="400" font-style="normal" fill="#989898" text-anchor="middle" textLength="110" lengthAdjust="spacingAndGlyphs" >2014/09/09</text>
<text x="775.2" y="780.2" font-size="21.5" font-weight="400" font-style="normal" fill="#989898" text-anchor="middle" textLength="110" lengthAdjust="spacingAndGlyphs" >2015/08/04</text>
<text x="912.0000000000001" y="780.2" font-size="21.5" font-weight="400" font-style="normal" fill="#989898" text-anchor="middle" textLength="110" lengthAdjust="spacingAndGlyphs" >2016/06/28</text>
<text x="1048.8000000000002" y="780.2" font-size="21.5" font-weight="400" font-style="normal" fill="#989898" text-anchor="middle" textLength="110" lengthAdjust="spacingAndGlyphs" >2017/05/23</text>
<text x="1185.6000000000001" y="780.2" font-size="21.5" font-weight="400" font-style="normal" fill="#989898" text-anchor="middle" textLength="110" lengthAdjust="spacingAndGlyphs" >2018/04/17</text>
<text x="1322.4" y="780.2" font-size="21.5" font-weight="400" font-style="normal" fill="#989898" text-anchor="middle" textLength="110" lengthAdjust="spacingAndGlyphs" >2019/03/12</text>
<text x="1459.2" y="780.2" font-size="21.5" font-weight="400" font-style="normal" fill="#989898" text-anchor="middle" textLength="110" lengthAdjust="spacingAndGlyphs" >2020/02/04</text>
<text x="1596.0000000000002" y="780.2" font-size="21.5" font-weight="400" font-style="normal" fill="#989898" text-anchor="middle" textLength="110" lengthAdjust="spacingAndGlyphs" >2020/12/29</text>
<text x="1732.8000000000002" y="780.2" font-size="21.5" font-weight="400" font-style="normal" fill="#989898" text-anchor="middle" textLength="110" lengthAdjust="spacingAndGlyphs" >2021/11/23</text>
<text x="1869.6000000000001" y="780.2" font-size="21.5" font-weight="400" font-style="normal" fill="#989898" text-anchor="middle" textLength="110" lengthAdjust="spacingAndGlyphs" >2022/10/18</text>
<text x="2006.4000000000003" y="780.2" font-size="21.5" font-weight="400" font-style="normal" fill="#989898" text-anchor="middle" textLength="110" lengthAdjust="spacingAndGlyphs" >2023/09/12</text>
<text x="2206.5" y="780.2" font-size="21.5" font-weight="400" font-style="normal" fill="#989898" text-anchor="middle" textLength="110" lengthAdjust="spacingAndGlyphs" >2025/01/06</text>
<rect x="100" y="792.5" width="2110.5" height="42.2" fill="#1c2336"/>
<path d="M100 834.7 L100.0 827.0 L102.5 827.0 L105.0 827.0 L107.5 827.0 L110.0 827.0 L112.1 827.0 L114.2 827.0 L116.3 827.0 L118.4 827.0 L120.4 827.0 L122.4 827.0 L124.4 827.0 L126.3 827.0 L128.8 827.0 L131.3 827.0 L133.8 827.0 L136.3 827.0 L138.8 827.0 L141.3 827.0 L143.0 827.0 L144.7 827.0 L147.2 827.0 L149.7 827.0 L152.3 827.0 L154.0 827.0 L156.3 827.0 L158.4 827.0 L160.5 827.0 L162.6 827.0 L164.7 827.0 L166.6 827.0 L168.5 827.0 L170.5 827.0 L172.4 827.0 L174.3 827.0 L176.2 827.0 L179.5 827.0 L182.0 827.0 L184.5 827.0 L187.0 827.0 L189.5 827.0 L192.0 827.0 L194.4 827.0 L196.5 827.0 L198.5 827.0 L200.6 827.0 L202.7 827.0 L205.2 827.0 L207.7 827.0 L210.2 827.0 L212.7 827.0 L215.2 827.0 L217.7 827.0 L221.0 827.0 L223.1 827.0 L225.3 827.0 L227.5 827.0 L229.7 827.0 L231.9 827.0 L234.1 827.0 L236.4 827.0 L238.6 827.0 L240.8 827.0 L243.0 827.0 L245.3 827.0 L247.5 827.0 L249.4 827.0 L251.4 827.0 L253.3 827.0 L255.2 827.0 L257.1 827.0 L259.1 827.0 L260.5 827.0 L262.4 827.0 L264.3 827.0 L266.2 827.0 L268.1 827.0 L270.1 827.0 L271.9 827.0 L273.7 827.0 L275.5 827.0 L277.5 827.0 L279.4 827.0 L281.3 827.0 L283.2 827.0 L285.1 827.0 L287.2 827.0 L289.2 827.0 L291.3 827.0 L293.3 827.0 L295.2 827.0 L297.1 827.0 L299.1 827.0 L301.0 827.0 L302.9 827.0 L304.6 827.0 L306.3 827.0 L308.1 827.0 L309.8 827.0 L311.7 827.0 L313.6 827.0 L315.5 827.0 L317.4 827.0 L319.4 827.0 L322.1 827.0 L323.8 827.0 L325.5 827.0 L327.2 827.0 L328.9 827.0 L331.0 827.0 L333.1 827.0 L335.1 827.0 L337.2 827.0 L339.0 827.0 L340.8 827.0 L342.7 827.0 L344.5 827.0 L346.3 827.0 L348.1 827.0 L349.9 827.0 L351.8 827.0 L353.6 827.0 L355.7 827.0 L357.7 827.0 L359.8 827.0 L361.9 827.0 L364.6 827.0 L366.3 827.0 L368.0 827.0 L369.7 827.0 L371.4 827.0 L373.3 827.0 L375.1 827.0 L376.9 827.0 L378.8 827.0 L380.6 827.0 L382.4 827.0 L384.3 827.0 L386.1 827.0 L387.9 827.0 L389.7 827.0 L391.6 827.0 L393.4 827.0 L395.2 827.0 L397.1 827.0 L398.9 827.0 L401.2 827.0 L403.4 827.0 L405.7 827.0 L407.4 827.0 L409.2 827.0 L410.9 827.0 L412.6 827.0 L414.4 827.0 L416.5 827.0 L418.6 827.0 L420.6 827.0 L422.7 827.0 L425.2 827.0 L427.6 827.0 L429.8 827.0 L431.9 826.9 L434.9 827.0 L437.7 827.0 L439.9 827.0 L442.1 827.0 L444.3 827.0 L446.4 827.0 L448.4 827.0 L450.5 827.0 L452.6 827.0 L454.6 827.0 L456.6 827.0 L458.6 827.0 L460.6 827.0 L462.6 827.0 L464.4 827.0 L466.3 827.0 L468.1 827.0 L470.0 827.0 L471.9 827.0 L473.8 827.0 L475.7 827.0 L477.5 827.0 L479.4 827.0 L481.3 827.0 L483.2 827.0 L485.1 827.0 L487.0 827.0 L488.9 827.0 L490.8 827.0 L492.9 827.0 L494.9 827.0 L497.0 827.0 L499.1 827.0 L501.3 827.0 L503.5 827.0 L505.8 827.0 L507.8 827.0 L509.9 827.0 L512.0 827.0 L514.1 827.0 L516.3 826.9 L518.5 826.9 L520.7 826.9 L523.2 826.9 L525.6 826.8 L527.8 826.8 L530.0 826.7 L532.0 826.8 L534.0 826.8 L537.3 826.9 L539.5 826.8 L541.8 826.8 L544.0 826.8 L546.0 826.8 L548.0 826.8 L550.0 826.8 L552.0 826.8 L554.0 826.8 L556.2 826.8 L558.4 826.8 L560.6 826.8 L562.6 826.8 L564.6 826.8 L566.5 826.8 L568.5 826.8 L570.5 826.8 L572.4 826.8 L574.3 826.9 L576.2 826.9 L578.1 826.9 L580.0 826.9 L581.9 826.9 L583.8 826.9 L586.0 826.9 L588.3 826.9 L590.5 826.9 L592.5 826.9 L594.5 826.9 L596.5 826.9 L598.5 826.9 L600.5 826.9 L602.7 826.9 L604.9 826.8 L607.1 826.8 L609.0 826.8 L610.9 826.8 L612.8 826.8 L614.7 826.8 L616.5 826.8 L618.4 826.8 L620.3 826.8 L622.2 826.8 L624.1 826.8 L626.0 826.8 L627.8 826.8 L629.7 826.8 L631.6 826.8 L633.4 826.9 L635.3 826.9 L637.3 826.9 L640.2 826.9 L642.1 826.9 L644.0 826.9 L645.9 826.9 L647.8 826.9 L649.7 826.9 L652.6 826.9 L654.9 826.9 L657.3 826.9 L659.2 826.9 L661.1 826.9 L664.0 826.9 L666.3 826.9 L668.7 826.9 L671.1 826.9 L673.4 826.9 L676.3 826.9 L678.2 826.9 L680.1 826.9 L682.0 826.9 L683.9 826.9 L685.8 826.9 L687.7 826.9 L689.9 826.9 L692.2 826.9 L694.4 826.9 L696.8 826.9 L699.2 826.9 L701.6 826.9 L704.0 826.9 L705.9 826.9 L708.1 826.9 L710.3 826.9 L712.5 826.9 L714.4 826.9 L716.3 826.9 L718.5 826.9 L720.7 826.9 L722.9 826.9 L725.3 826.9 L727.7 826.9 L730.1 826.9 L732.5 826.9 L734.9 826.9 L737.2 826.9 L739.6 826.9 L742.0 826.9 L743.9 826.9 L745.8 826.9 L747.7 826.9 L749.6 826.9 L751.5 826.9 L753.7 826.9 L755.9 826.9 L758.2 826.9 L760.1 826.9 L762.0 826.9 L763.8 826.9 L765.8 826.9 L767.7 826.9 L769.6 826.9 L771.5 826.9 L773.4 826.9 L775.6 826.9 L777.8 826.9 L780.0 826.9 L781.9 826.9 L783.9 826.9 L785.8 826.9 L787.7 826.9 L789.6 826.9 L791.5 826.9 L793.4 826.9 L795.3 826.9 L797.2 826.9 L799.1 826.9 L801.0 826.9 L802.9 826.9 L804.8 826.9 L806.7 826.9 L808.7 826.9 L810.9 826.9 L813.0 826.9 L815.2 826.9 L817.1 826.9 L819.0 826.9 L821.4 826.9 L823.3 826.9 L825.5 826.9 L827.6 826.9 L829.5 826.9 L831.5 826.9 L833.4 826.9 L835.3 826.9 L837.2 826.9 L839.1 826.9 L841.0 826.9 L842.9 826.9 L844.8 826.9 L846.7 826.9 L848.6 826.9 L851.5 826.9 L853.3 826.9 L855.1 826.9 L856.9 826.9 L858.8 826.9 L860.7 826.9 L862.6 826.9 L864.6 826.9 L866.5 826.9 L869.0 826.9 L871.4 826.9 L873.2 826.9 L875.1 826.9 L876.9 826.9 L878.7 826.9 L880.5 826.9 L882.4 826.9 L884.2 826.9 L886.0 826.9 L887.9 826.9 L889.9 826.9 L891.8 826.9 L893.8 826.9 L895.7 826.9 L897.7 826.9 L899.6 826.9 L901.5 826.9 L903.5 826.9 L905.4 826.9 L907.4 826.9 L909.3 826.9 L911.2 826.8 L913.2 826.8 L915.1 826.8 L917.5 826.8 L919.9 826.8 L921.7 826.8 L923.5 826.8 L925.3 826.8 L927.0 826.8 L928.8 826.8 L930.6 826.8 L933.5 826.8 L934.5 826.9 L936.5 826.8 L938.4 826.8 L940.3 826.8 L942.3 826.9 L944.2 826.9 L946.1 826.9 L948.1 826.9 L950.1 826.8 L952.0 826.8 L953.9 826.8 L955.9 826.8 L957.8 826.8 L959.7 826.8 L961.5 826.8 L963.3 826.8 L965.0 826.8 L966.8 826.8 L968.5 826.8 L970.9 826.8 L973.3 826.8 L975.3 826.8 L977.2 826.8 L979.1 826.8 L981.1 826.8 L983.0 826.8 L985.0 826.8 L986.9 826.8 L988.9 826.8 L990.8 826.8 L992.8 826.8 L994.5 826.8 L996.3 826.7 L998.1 826.7 L1001.5 826.8 L1003.4 826.8 L1005.4 826.8 L1007.1 826.8 L1008.7 826.7 L1010.4 826.7 L1012.1 826.7 L1014.1 826.8 L1016.0 826.7 L1018.0 826.7 L1019.9 826.7 L1021.9 826.7 L1023.8 826.7 L1025.8 826.7 L1027.7 826.7 L1029.7 826.7 L1031.6 826.8 L1033.5 826.7 L1035.5 826.7 L1037.4 826.7 L1039.4 826.7 L1041.3 826.7 L1043.3 826.7 L1045.5 826.6 L1047.8 826.6 L1050.1 826.5 L1052.5 826.5 L1054.9 826.4 L1057.7 826.4 L1059.7 826.3 L1061.6 826.3 L1064.6 826.3 L1067.4 826.3 L1069.9 826.3 L1072.4 826.4 L1074.2 826.4 L1076.1 826.5 L1077.9 826.5 L1080.4 826.3 L1082.8 826.2 L1085.2 826.1 L1087.0 826.0 L1088.9 825.9 L1090.7 825.9 L1092.5 825.9 L1094.3 825.8 L1096.1 825.8 L1098.0 825.8 L1099.8 825.9 L1101.6 826.0 L1103.5 826.1 L1105.3 826.1 L1107.1 826.0 L1108.9 826.0 L1110.8 825.9 L1112.6 825.8 L1114.4 825.7 L1116.3 825.7 L1118.1 825.6 L1119.9 825.5 L1121.8 825.4 L1123.6 825.2 L1125.4 825.1 L1128.1 825.4 L1130.9 825.0 L1132.7 824.7 L1134.5 824.5 L1136.3 823.7 L1138.2 822.9 L1140.0 822.5 L1141.8 822.0 L1144.6 823.4 L1146.4 823.4 L1148.3 823.6 L1150.5 822.6 L1153.7 823.5 L1155.5 824.1 L1157.3 823.9 L1159.1 824.0 L1161.4 824.7 L1163.7 825.3 L1165.6 825.0 L1167.4 824.6 L1169.2 824.1 L1171.0 824.4 L1172.9 824.2 L1174.7 824.0 L1177.4 824.7 L1180.2 825.1 L1182.9 824.7 L1185.2 824.9 L1187.5 825.2 L1190.3 825.3 L1192.1 825.1 L1193.9 824.9 L1195.8 824.6 L1198.0 824.6 L1200.3 824.4 L1202.1 824.5 L1203.9 824.6 L1205.7 824.9 L1207.9 824.9 L1210.0 825.0 L1212.1 825.0 L1214.4 825.1 L1216.7 825.4 L1218.6 825.5 L1220.4 825.5 L1222.2 825.5 L1224.1 825.5 L1225.9 825.4 L1228.6 825.4 L1230.4 825.3 L1232.3 825.1 L1234.1 824.9 L1236.2 825.1 L1238.3 825.3 L1240.5 825.4 L1242.3 825.4 L1244.2 825.3 L1246.1 825.3 L1247.9 825.2 L1249.8 825.1 L1252.1 825.3 L1254.3 825.4 L1256.2 825.4 L1258.0 825.3 L1259.9 825.3 L1261.7 825.3 L1263.5 825.3 L1265.4 825.2 L1267.2 825.2 L1269.0 825.2 L1270.8 825.2 L1272.6 825.2 L1274.5 825.3 L1276.3 825.3 L1278.1 825.3 L1280.4 825.6 L1282.7 825.8 L1285.4 826.0 L1287.2 826.0 L1289.1 826.1 L1290.9 826.1 L1292.7 826.1 L1294.5 826.0 L1296.4 826.0 L1298.2 825.9 L1300.0 825.9 L1301.8 825.9 L1303.6 826.0 L1305.5 826.0 L1307.3 826.0 L1309.1 826.1 L1311.0 826.1 L1312.8 826.1 L1314.6 826.1 L1316.8 826.1 L1318.9 826.0 L1321.0 826.0 L1323.1 826.0 L1325.3 826.0 L1327.4 826.0 L1329.2 826.0 L1331.1 826.0 L1332.9 826.0 L1334.7 825.9 L1336.6 825.9 L1338.4 825.7 L1340.2 825.7 L1342.0 825.7 L1343.9 825.6 L1345.7 825.6 L1347.5 825.6 L1349.4 825.5 L1351.2 825.4 L1353.0 825.2 L1354.8 825.0 L1356.7 824.9 L1358.5 824.8 L1360.3 824.7 L1362.1 824.8 L1364.0 824.8 L1365.8 825.0 L1367.7 824.8 L1369.5 824.6 L1371.3 824.4 L1373.1 823.7 L1375.4 823.7 L1377.7 823.9 L1379.9 824.1 L1382.2 824.6 L1384.0 824.5 L1385.9 824.4 L1387.7 824.3 L1389.5 824.1 L1391.4 824.0 L1393.2 824.2 L1395.1 824.5 L1396.9 824.3 L1398.7 824.3 L1400.5 824.2 L1402.3 824.2 L1404.5 824.2 L1406.6 824.2 L1408.7 824.4 L1411.4 824.9 L1413.3 825.0 L1415.1 825.0 L1416.9 824.9 L1418.8 824.8 L1420.6 824.9 L1423.3 825.1 L1426.1 824.6 L1427.9 824.8 L1429.8 824.7 L1431.6 824.7 L1433.4 825.0 L1435.2 825.2 L1437.0 825.1 L1438.8 825.1 L1440.7 825.2 L1442.5 825.2 L1444.3 825.2 L1446.2 825.3 L1448.0 825.2 L1449.8 825.0 L1451.7 825.0 L1453.5 824.8 L1455.3 824.9 L1457.2 824.7 L1459.0 824.6 L1460.8 824.5 L1462.6 824.6 L1464.8 824.3 L1466.9 824.3 L1469.0 824.3 L1471.3 824.4 L1473.6 824.5 L1475.8 824.6 L1478.1 824.7 L1479.9 825.3 L1481.8 825.7 L1483.6 825.6 L1485.5 825.4 L1487.3 825.4 L1489.1 825.3 L1491.0 825.2 L1493.7 825.3 L1495.5 825.3 L1497.3 825.2 L1499.1 825.1 L1501.0 825.0 L1502.8 824.7 L1504.6 824.5 L1506.5 824.5 L1508.3 824.5 L1510.1 824.4 L1511.9 824.5 L1513.7 824.5 L1515.6 824.6 L1517.4 824.6 L1519.2 824.6 L1521.1 824.7 L1522.9 824.6 L1524.7 824.6 L1526.6 824.6 L1528.4 824.7 L1530.2 824.7 L1531.9 824.7 L1533.7 824.7 L1535.5 824.6 L1537.2 824.5 L1538.9 824.1 L1540.8 824.1 L1542.7 824.1 L1544.6 824.0 L1546.5 823.8 L1548.3 824.0 L1550.1 823.9 L1551.9 824.0 L1554.6 824.4 L1556.5 824.2 L1558.3 824.1 L1560.1 824.2 L1561.8 824.1 L1563.6 824.1 L1565.3 824.3 L1567.0 824.3 L1569.1 824.2 L1571.1 824.0 L1572.9 823.8 L1574.8 823.7 L1576.6 823.4 L1578.4 823.4 L1580.3 823.2 L1582.1 823.0 L1584.5 822.5 L1586.9 822.2 L1588.9 822.3 L1591.0 822.4 L1593.1 822.3 L1595.1 821.8 L1597.1 821.0 L1599.0 820.6 L1600.8 820.1 L1602.6 819.4 L1604.3 818.0 L1606.0 816.7 L1608.1 817.3 L1610.1 817.5 L1612.9 818.9 L1615.3 818.2 L1617.7 817.7 L1619.7 814.7 L1621.8 813.2 L1623.9 812.6 L1626.6 815.4 L1628.7 813.9 L1630.7 813.1 L1632.8 811.7 L1635.2 812.4 L1637.6 813.7 L1639.3 812.8 L1641.0 811.7 L1643.4 811.9 L1645.8 810.7 L1647.8 812.7 L1649.9 814.0 L1651.7 813.2 L1653.5 812.5 L1655.3 811.7 L1658.1 813.1 L1660.8 817.7 L1663.6 817.9 L1666.0 818.2 L1668.4 818.3 L1671.1 816.7 L1673.1 818.1 L1675.2 818.9 L1677.3 818.6 L1679.4 817.9 L1681.6 818.6 L1683.9 818.7 L1686.2 819.4 L1689.0 816.9 L1690.8 816.2 L1692.6 815.8 L1694.5 815.9 L1696.7 815.3 L1699.0 814.4 L1701.2 814.0 L1703.3 814.1 L1705.4 814.2 L1707.2 813.8 L1709.0 813.7 L1710.8 814.7 L1712.9 815.0 L1715.0 816.3 L1717.7 813.7 L1719.8 812.6 L1721.8 811.7 L1723.9 810.4 L1726.3 811.4 L1728.7 811.7 L1730.7 810.8 L1732.8 810.1 L1734.6 810.8 L1736.4 811.5 L1738.3 812.3 L1740.3 813.2 L1742.4 814.2 L1744.4 813.7 L1746.5 814.5 L1748.6 814.0 L1750.6 814.2 L1752.3 815.1 L1754.0 815.8 L1755.7 815.5 L1757.4 816.1 L1759.3 816.6 L1761.1 817.5 L1762.9 817.9 L1764.7 817.6 L1766.6 816.6 L1768.4 815.7 L1770.4 815.5 L1772.5 815.7 L1774.6 816.5 L1776.7 817.7 L1778.7 817.0 L1780.8 815.9 L1782.6 816.1 L1784.4 816.6 L1786.3 816.9 L1788.7 815.6 L1791.1 814.7 L1793.1 815.2 L1795.2 816.3 L1797.2 816.5 L1799.5 816.5 L1801.8 817.1 L1804.0 817.1 L1806.1 818.6 L1808.1 819.7 L1810.2 819.8 L1812.3 819.6 L1814.3 819.1 L1816.4 818.9 L1818.8 819.4 L1821.2 819.4 L1823.2 821.9 L1825.3 822.0 L1827.4 822.0 L1829.2 821.7 L1831.0 821.6 L1832.9 821.8 L1834.6 821.4 L1836.4 821.2 L1838.2 821.1 L1840.2 820.8 L1842.3 820.9 L1844.7 820.5 L1847.2 820.6 L1849.3 820.9 L1851.3 821.5 L1853.8 821.6 L1856.2 822.0 L1859.5 821.5 L1861.6 821.9 L1863.6 822.2 L1865.5 821.9 L1867.5 822.0 L1869.4 821.9 L1871.6 822.1 L1873.8 821.9 L1876.0 822.1 L1879.3 821.6 L1881.3 821.8 L1883.4 821.7 L1885.0 822.7 L1887.1 822.9 L1889.2 822.9 L1891.0 823.0 L1892.7 822.7 L1894.5 822.6 L1896.3 822.5 L1898.1 822.4 L1900.1 822.7 L1902.0 822.8 L1903.9 822.8 L1906.4 822.7 L1908.8 822.8 L1912.1 821.5 L1914.0 821.3 L1915.8 821.1 L1917.6 820.7 L1919.5 820.9 L1921.5 820.9 L1923.6 821.5 L1926.1 820.6 L1927.9 820.9 L1929.8 821.0 L1931.6 821.4 L1933.5 821.5 L1934.4 822.0 L1937.6 819.8 L1939.5 819.7 L1941.4 819.6 L1943.3 819.8 L1945.8 819.4 L1948.3 819.1 L1951.6 820.0 L1954.1 819.6 L1956.5 819.6 L1959.0 819.7 L1961.4 820.1 L1963.6 820.3 L1965.8 820.4 L1968.0 820.0 L1969.9 820.5 L1971.9 820.6 L1973.8 820.6 L1975.8 820.2 L1977.9 819.1 L1979.9 819.5 L1982.0 819.2 L1984.0 819.2 L1986.1 818.9 L1988.3 818.9 L1990.4 819.3 L1992.6 819.4 L1994.8 819.4 L1997.0 819.6 L1999.2 819.4 L2001.7 820.5 L2003.6 820.6 L2005.5 820.3 L2007.4 820.3 L2009.5 819.9 L2011.6 820.3 L2013.6 820.0 L2015.7 820.1 L2017.7 820.0 L2019.8 819.9 L2021.8 819.8 L2023.9 820.0 L2027.2 818.5 L2029.7 818.4 L2032.2 818.1 L2034.4 818.3 L2036.6 817.8 L2038.7 817.6 L2040.8 817.3 L2042.8 816.7 L2044.9 816.3 L2046.9 815.9 L2049.0 815.8 L2051.0 815.6 L2053.1 815.6 L2055.1 816.2 L2057.0 815.3 L2059.0 815.6 L2060.9 815.1 L2062.8 815.8 L2064.8 816.1 L2066.7 816.9 L2069.1 816.5 L2071.6 815.6 L2074.0 815.2 L2076.5 813.6 L2078.6 814.1 L2080.7 814.2 L2083.1 811.3 L2085.6 808.2 L2087.6 809.0 L2089.6 810.7 L2092.1 809.1 L2094.5 809.1 L2097.0 808.4 L2099.5 809.1 L2101.7 808.9 L2103.9 809.7 L2106.1 811.1 L2108.1 809.9 L2110.1 809.9 L2112.0 810.1 L2114.0 809.7 L2116.0 808.6 L2118.2 808.9 L2120.4 808.8 L2122.6 809.1 L2124.7 809.6 L2126.9 810.0 L2129.1 810.7 L2131.3 811.2 L2133.5 811.5 L2135.7 812.9 L2138.1 810.7 L2140.6 809.5 L2142.8 811.1 L2145.0 811.8 L2147.2 813.2 L2149.4 812.3 L2151.6 811.7 L2153.8 810.7 L2156.0 812.1 L2158.1 812.3 L2160.3 813.2 L2162.4 812.2 L2164.4 811.3 L2166.5 810.7 L2168.6 810.3 L2171.0 810.6 L2173.5 811.5 L2175.7 811.1 L2177.9 810.3 L2180.1 808.6 L2182.1 809.4 L2184.2 808.2 L2186.2 806.3 L2188.2 804.8 L2190.7 802.6 L2193.1 802.5 L2195.4 802.1 L2197.6 802.6 L2199.8 801.3 L2203.1 799.3 L2206.4 801.9 L2208.5 802.8 L2210.5 803.1 L2210.5 834.7 Z" fill="#22305c"/>
<path d="M100.0 827.0 L102.5 827.0 L105.0 827.0 L107.5 827.0 L110.0 827.0 L112.1 827.0 L114.2 827.0 L116.3 827.0 L118.4 827.0 L120.4 827.0 L122.4 827.0 L124.4 827.0 L126.3 827.0 L128.8 827.0 L131.3 827.0 L133.8 827.0 L136.3 827.0 L138.8 827.0 L141.3 827.0 L143.0 827.0 L144.7 827.0 L147.2 827.0 L149.7 827.0 L152.3 827.0 L154.0 827.0 L156.3 827.0 L158.4 827.0 L160.5 827.0 L162.6 827.0 L164.7 827.0 L166.6 827.0 L168.5 827.0 L170.5 827.0 L172.4 827.0 L174.3 827.0 L176.2 827.0 L179.5 827.0 L182.0 827.0 L184.5 827.0 L187.0 827.0 L189.5 827.0 L192.0 827.0 L194.4 827.0 L196.5 827.0 L198.5 827.0 L200.6 827.0 L202.7 827.0 L205.2 827.0 L207.7 827.0 L210.2 827.0 L212.7 827.0 L215.2 827.0 L217.7 827.0 L221.0 827.0 L223.1 827.0 L225.3 827.0 L227.5 827.0 L229.7 827.0 L231.9 827.0 L234.1 827.0 L236.4 827.0 L238.6 827.0 L240.8 827.0 L243.0 827.0 L245.3 827.0 L247.5 827.0 L249.4 827.0 L251.4 827.0 L253.3 827.0 L255.2 827.0 L257.1 827.0 L259.1 827.0 L260.5 827.0 L262.4 827.0 L264.3 827.0 L266.2 827.0 L268.1 827.0 L270.1 827.0 L271.9 827.0 L273.7 827.0 L275.5 827.0 L277.5 827.0 L279.4 827.0 L281.3 827.0 L283.2 827.0 L285.1 827.0 L287.2 827.0 L289.2 827.0 L291.3 827.0 L293.3 827.0 L295.2 827.0 L297.1 827.0 L299.1 827.0 L301.0 827.0 L302.9 827.0 L304.6 827.0 L306.3 827.0 L308.1 827.0 L309.8 827.0 L311.7 827.0 L313.6 827.0 L315.5 827.0 L317.4 827.0 L319.4 827.0 L322.1 827.0 L323.8 827.0 L325.5 827.0 L327.2 827.0 L328.9 827.0 L331.0 827.0 L333.1 827.0 L335.1 827.0 L337.2 827.0 L339.0 827.0 L340.8 827.0 L342.7 827.0 L344.5 827.0 L346.3 827.0 L348.1 827.0 L349.9 827.0 L351.8 827.0 L353.6 827.0 L355.7 827.0 L357.7 827.0 L359.8 827.0 L361.9 827.0 L364.6 827.0 L366.3 827.0 L368.0 827.0 L369.7 827.0 L371.4 827.0 L373.3 827.0 L375.1 827.0 L376.9 827.0 L378.8 827.0 L380.6 827.0 L382.4 827.0 L384.3 827.0 L386.1 827.0 L387.9 827.0 L389.7 827.0 L391.6 827.0 L393.4 827.0 L395.2 827.0 L397.1 827.0 L398.9 827.0 L401.2 827.0 L403.4 827.0 L405.7 827.0 L407.4 827.0 L409.2 827.0 L410.9 827.0 L412.6 827.0 L414.4 827.0 L416.5 827.0 L418.6 827.0 L420.6 827.0 L422.7 827.0 L425.2 827.0 L427.6 827.0 L429.8 827.0 L431.9 826.9 L434.9 827.0 L437.7 827.0 L439.9 827.0 L442.1 827.0 L444.3 827.0 L446.4 827.0 L448.4 827.0 L450.5 827.0 L452.6 827.0 L454.6 827.0 L456.6 827.0 L458.6 827.0 L460.6 827.0 L462.6 827.0 L464.4 827.0 L466.3 827.0 L468.1 827.0 L470.0 827.0 L471.9 827.0 L473.8 827.0 L475.7 827.0 L477.5 827.0 L479.4 827.0 L481.3 827.0 L483.2 827.0 L485.1 827.0 L487.0 827.0 L488.9 827.0 L490.8 827.0 L492.9 827.0 L494.9 827.0 L497.0 827.0 L499.1 827.0 L501.3 827.0 L503.5 827.0 L505.8 827.0 L507.8 827.0 L509.9 827.0 L512.0 827.0 L514.1 827.0 L516.3 826.9 L518.5 826.9 L520.7 826.9 L523.2 826.9 L525.6 826.8 L527.8 826.8 L530.0 826.7 L532.0 826.8 L534.0 826.8 L537.3 826.9 L539.5 826.8 L541.8 826.8 L544.0 826.8 L546.0 826.8 L548.0 826.8 L550.0 826.8 L552.0 826.8 L554.0 826.8 L556.2 826.8 L558.4 826.8 L560.6 826.8 L562.6 826.8 L564.6 826.8 L566.5 826.8 L568.5 826.8 L570.5 826.8 L572.4 826.8 L574.3 826.9 L576.2 826.9 L578.1 826.9 L580.0 826.9 L581.9 826.9 L583.8 826.9 L586.0 826.9 L588.3 826.9 L590.5 826.9 L592.5 826.9 L594.5 826.9 L596.5 826.9 L598.5 826.9 L600.5 826.9 L602.7 826.9 L604.9 826.8 L607.1 826.8 L609.0 826.8 L610.9 826.8 L612.8 826.8 L614.7 826.8 L616.5 826.8 L618.4 826.8 L620.3 826.8 L622.2 826.8 L624.1 826.8 L626.0 826.8 L627.8 826.8 L629.7 826.8 L631.6 826.8 L633.4 826.9 L635.3 826.9 L637.3 826.9 L640.2 826.9 L642.1 826.9 L644.0 826.9 L645.9 826.9 L647.8 826.9 L649.7 826.9 L652.6 826.9 L654.9 826.9 L657.3 826.9 L659.2 826.9 L661.1 826.9 L664.0 826.9 L666.3 826.9 L668.7 826.9 L671.1 826.9 L673.4 826.9 L676.3 826.9 L678.2 826.9 L680.1 826.9 L682.0 826.9 L683.9 826.9 L685.8 826.9 L687.7 826.9 L689.9 826.9 L692.2 826.9 L694.4 826.9 L696.8 826.9 L699.2 826.9 L701.6 826.9 L704.0 826.9 L705.9 826.9 L708.1 826.9 L710.3 826.9 L712.5 826.9 L714.4 826.9 L716.3 826.9 L718.5 826.9 L720.7 826.9 L722.9 826.9 L725.3 826.9 L727.7 826.9 L730.1 826.9 L732.5 826.9 L734.9 826.9 L737.2 826.9 L739.6 826.9 L742.0 826.9 L743.9 826.9 L745.8 826.9 L747.7 826.9 L749.6 826.9 L751.5 826.9 L753.7 826.9 L755.9 826.9 L758.2 826.9 L760.1 826.9 L762.0 826.9 L763.8 826.9 L765.8 826.9 L767.7 826.9 L769.6 826.9 L771.5 826.9 L773.4 826.9 L775.6 826.9 L777.8 826.9 L780.0 826.9 L781.9 826.9 L783.9 826.9 L785.8 826.9 L787.7 826.9 L789.6 826.9 L791.5 826.9 L793.4 826.9 L795.3 826.9 L797.2 826.9 L799.1 826.9 L801.0 826.9 L802.9 826.9 L804.8 826.9 L806.7 826.9 L808.7 826.9 L810.9 826.9 L813.0 826.9 L815.2 826.9 L817.1 826.9 L819.0 826.9 L821.4 826.9 L823.3 826.9 L825.5 826.9 L827.6 826.9 L829.5 826.9 L831.5 826.9 L833.4 826.9 L835.3 826.9 L837.2 826.9 L839.1 826.9 L841.0 826.9 L842.9 826.9 L844.8 826.9 L846.7 826.9 L848.6 826.9 L851.5 826.9 L853.3 826.9 L855.1 826.9 L856.9 826.9 L858.8 826.9 L860.7 826.9 L862.6 826.9 L864.6 826.9 L866.5 826.9 L869.0 826.9 L871.4 826.9 L873.2 826.9 L875.1 826.9 L876.9 826.9 L878.7 826.9 L880.5 826.9 L882.4 826.9 L884.2 826.9 L886.0 826.9 L887.9 826.9 L889.9 826.9 L891.8 826.9 L893.8 826.9 L895.7 826.9 L897.7 826.9 L899.6 826.9 L901.5 826.9 L903.5 826.9 L905.4 826.9 L907.4 826.9 L909.3 826.9 L911.2 826.8 L913.2 826.8 L915.1 826.8 L917.5 826.8 L919.9 826.8 L921.7 826.8 L923.5 826.8 L925.3 826.8 L927.0 826.8 L928.8 826.8 L930.6 826.8 L933.5 826.8 L934.5 826.9 L936.5 826.8 L938.4 826.8 L940.3 826.8 L942.3 826.9 L944.2 826.9 L946.1 826.9 L948.1 826.9 L950.1 826.8 L952.0 826.8 L953.9 826.8 L955.9 826.8 L957.8 826.8 L959.7 826.8 L961.5 826.8 L963.3 826.8 L965.0 826.8 L966.8 826.8 L968.5 826.8 L970.9 826.8 L973.3 826.8 L975.3 826.8 L977.2 826.8 L979.1 826.8 L981.1 826.8 L983.0 826.8 L985.0 826.8 L986.9 826.8 L988.9 826.8 L990.8 826.8 L992.8 826.8 L994.5 826.8 L996.3 826.7 L998.1 826.7 L1001.5 826.8 L1003.4 826.8 L1005.4 826.8 L1007.1 826.8 L1008.7 826.7 L1010.4 826.7 L1012.1 826.7 L1014.1 826.8 L1016.0 826.7 L1018.0 826.7 L1019.9 826.7 L1021.9 826.7 L1023.8 826.7 L1025.8 826.7 L1027.7 826.7 L1029.7 826.7 L1031.6 826.8 L1033.5 826.7 L1035.5 826.7 L1037.4 826.7 L1039.4 826.7 L1041.3 826.7 L1043.3 826.7 L1045.5 826.6 L1047.8 826.6 L1050.1 826.5 L1052.5 826.5 L1054.9 826.4 L1057.7 826.4 L1059.7 826.3 L1061.6 826.3 L1064.6 826.3 L1067.4 826.3 L1069.9 826.3 L1072.4 826.4 L1074.2 826.4 L1076.1 826.5 L1077.9 826.5 L1080.4 826.3 L1082.8 826.2 L1085.2 826.1 L1087.0 826.0 L1088.9 825.9 L1090.7 825.9 L1092.5 825.9 L1094.3 825.8 L1096.1 825.8 L1098.0 825.8 L1099.8 825.9 L1101.6 826.0 L1103.5 826.1 L1105.3 826.1 L1107.1 826.0 L1108.9 826.0 L1110.8 825.9 L1112.6 825.8 L1114.4 825.7 L1116.3 825.7 L1118.1 825.6 L1119.9 825.5 L1121.8 825.4 L1123.6 825.2 L1125.4 825.1 L1128.1 825.4 L1130.9 825.0 L1132.7 824.7 L1134.5 824.5 L1136.3 823.7 L1138.2 822.9 L1140.0 822.5 L1141.8 822.0 L1144.6 823.4 L1146.4 823.4 L1148.3 823.6 L1150.5 822.6 L1153.7 823.5 L1155.5 824.1 L1157.3 823.9 L1159.1 824.0 L1161.4 824.7 L1163.7 825.3 L1165.6 825.0 L1167.4 824.6 L1169.2 824.1 L1171.0 824.4 L1172.9 824.2 L1174.7 824.0 L1177.4 824.7 L1180.2 825.1 L1182.9 824.7 L1185.2 824.9 L1187.5 825.2 L1190.3 825.3 L1192.1 825.1 L1193.9 824.9 L1195.8 824.6 L1198.0 824.6 L1200.3 824.4 L1202.1 824.5 L1203.9 824.6 L1205.7 824.9 L1207.9 824.9 L1210.0 825.0 L1212.1 825.0 L1214.4 825.1 L1216.7 825.4 L1218.6 825.5 L1220.4 825.5 L1222.2 825.5 L1224.1 825.5 L1225.9 825.4 L1228.6 825.4 L1230.4 825.3 L1232.3 825.1 L1234.1 824.9 L1236.2 825.1 L1238.3 825.3 L1240.5 825.4 L1242.3 825.4 L1244.2 825.3 L1246.1 825.3 L1247.9 825.2 L1249.8 825.1 L1252.1 825.3 L1254.3 825.4 L1256.2 825.4 L1258.0 825.3 L1259.9 825.3 L1261.7 825.3 L1263.5 825.3 L1265.4 825.2 L1267.2 825.2 L1269.0 825.2 L1270.8 825.2 L1272.6 825.2 L1274.5 825.3 L1276.3 825.3 L1278.1 825.3 L1280.4 825.6 L1282.7 825.8 L1285.4 826.0 L1287.2 826.0 L1289.1 826.1 L1290.9 826.1 L1292.7 826.1 L1294.5 826.0 L1296.4 826.0 L1298.2 825.9 L1300.0 825.9 L1301.8 825.9 L1303.6 826.0 L1305.5 826.0 L1307.3 826.0 L1309.1 826.1 L1311.0 826.1 L1312.8 826.1 L1314.6 826.1 L1316.8 826.1 L1318.9 826.0 L1321.0 826.0 L1323.1 826.0 L1325.3 826.0 L1327.4 826.0 L1329.2 826.0 L1331.1 826.0 L1332.9 826.0 L1334.7 825.9 L1336.6 825.9 L1338.4 825.7 L1340.2 825.7 L1342.0 825.7 L1343.9 825.6 L1345.7 825.6 L1347.5 825.6 L1349.4 825.5 L1351.2 825.4 L1353.0 825.2 L1354.8 825.0 L1356.7 824.9 L1358.5 824.8 L1360.3 824.7 L1362.1 824.8 L1364.0 824.8 L1365.8 825.0 L1367.7 824.8 L1369.5 824.6 L1371.3 824.4 L1373.1 823.7 L1375.4 823.7 L1377.7 823.9 L1379.9 824.1 L1382.2 824.6 L1384.0 824.5 L1385.9 824.4 L1387.7 824.3 L1389.5 824.1 L1391.4 824.0 L1393.2 824.2 L1395.1 824.5 L1396.9 824.3 L1398.7 824.3 L1400.5 824.2 L1402.3 824.2 L1404.5 824.2 L1406.6 824.2 L1408.7 824.4 L1411.4 824.9 L1413.3 825.0 L1415.1 825.0 L1416.9 824.9 L1418.8 824.8 L1420.6 824.9 L1423.3 825.1 L1426.1 824.6 L1427.9 824.8 L1429.8 824.7 L1431.6 824.7 L1433.4 825.0 L1435.2 825.2 L1437.0 825.1 L1438.8 825.1 L1440.7 825.2 L1442.5 825.2 L1444.3 825.2 L1446.2 825.3 L1448.0 825.2 L1449.8 825.0 L1451.7 825.0 L1453.5 824.8 L1455.3 824.9 L1457.2 824.7 L1459.0 824.6 L1460.8 824.5 L1462.6 824.6 L1464.8 824.3 L1466.9 824.3 L1469.0 824.3 L1471.3 824.4 L1473.6 824.5 L1475.8 824.6 L1478.1 824.7 L1479.9 825.3 L1481.8 825.7 L1483.6 825.6 L1485.5 825.4 L1487.3 825.4 L1489.1 825.3 L1491.0 825.2 L1493.7 825.3 L1495.5 825.3 L1497.3 825.2 L1499.1 825.1 L1501.0 825.0 L1502.8 824.7 L1504.6 824.5 L1506.5 824.5 L1508.3 824.5 L1510.1 824.4 L1511.9 824.5 L1513.7 824.5 L1515.6 824.6 L1517.4 824.6 L1519.2 824.6 L1521.1 824.7 L1522.9 824.6 L1524.7 824.6 L1526.6 824.6 L1528.4 824.7 L1530.2 824.7 L1531.9 824.7 L1533.7 824.7 L1535.5 824.6 L1537.2 824.5 L1538.9 824.1 L1540.8 824.1 L1542.7 824.1 L1544.6 824.0 L1546.5 823.8 L1548.3 824.0 L1550.1 823.9 L1551.9 824.0 L1554.6 824.4 L1556.5 824.2 L1558.3 824.1 L1560.1 824.2 L1561.8 824.1 L1563.6 824.1 L1565.3 824.3 L1567.0 824.3 L1569.1 824.2 L1571.1 824.0 L1572.9 823.8 L1574.8 823.7 L1576.6 823.4 L1578.4 823.4 L1580.3 823.2 L1582.1 823.0 L1584.5 822.5 L1586.9 822.2 L1588.9 822.3 L1591.0 822.4 L1593.1 822.3 L1595.1 821.8 L1597.1 821.0 L1599.0 820.6 L1600.8 820.1 L1602.6 819.4 L1604.3 818.0 L1606.0 816.7 L1608.1 817.3 L1610.1 817.5 L1612.9 818.9 L1615.3 818.2 L1617.7 817.7 L1619.7 814.7 L1621.8 813.2 L1623.9 812.6 L1626.6 815.4 L1628.7 813.9 L1630.7 813.1 L1632.8 811.7 L1635.2 812.4 L1637.6 813.7 L1639.3 812.8 L1641.0 811.7 L1643.4 811.9 L1645.8 810.7 L1647.8 812.7 L1649.9 814.0 L1651.7 813.2 L1653.5 812.5 L1655.3 811.7 L1658.1 813.1 L1660.8 817.7 L1663.6 817.9 L1666.0 818.2 L1668.4 818.3 L1671.1 816.7 L1673.1 818.1 L1675.2 818.9 L1677.3 818.6 L1679.4 817.9 L1681.6 818.6 L1683.9 818.7 L1686.2 819.4 L1689.0 816.9 L1690.8 816.2 L1692.6 815.8 L1694.5 815.9 L1696.7 815.3 L1699.0 814.4 L1701.2 814.0 L1703.3 814.1 L1705.4 814.2 L1707.2 813.8 L1709.0 813.7 L1710.8 814.7 L1712.9 815.0 L1715.0 816.3 L1717.7 813.7 L1719.8 812.6 L1721.8 811.7 L1723.9 810.4 L1726.3 811.4 L1728.7 811.7 L1730.7 810.8 L1732.8 810.1 L1734.6 810.8 L1736.4 811.5 L1738.3 812.3 L1740.3 813.2 L1742.4 814.2 L1744.4 813.7 L1746.5 814.5 L1748.6 814.0 L1750.6 814.2 L1752.3 815.1 L1754.0 815.8 L1755.7 815.5 L1757.4 816.1 L1759.3 816.6 L1761.1 817.5 L1762.9 817.9 L1764.7 817.6 L1766.6 816.6 L1768.4 815.7 L1770.4 815.5 L1772.5 815.7 L1774.6 816.5 L1776.7 817.7 L1778.7 817.0 L1780.8 815.9 L1782.6 816.1 L1784.4 816.6 L1786.3 816.9 L1788.7 815.6 L1791.1 814.7 L1793.1 815.2 L1795.2 816.3 L1797.2 816.5 L1799.5 816.5 L1801.8 817.1 L1804.0 817.1 L1806.1 818.6 L1808.1 819.7 L1810.2 819.8 L1812.3 819.6 L1814.3 819.1 L1816.4 818.9 L1818.8 819.4 L1821.2 819.4 L1823.2 821.9 L1825.3 822.0 L1827.4 822.0 L1829.2 821.7 L1831.0 821.6 L1832.9 821.8 L1834.6 821.4 L1836.4 821.2 L1838.2 821.1 L1840.2 820.8 L1842.3 820.9 L1844.7 820.5 L1847.2 820.6 L1849.3 820.9 L1851.3 821.5 L1853.8 821.6 L1856.2 822.0 L1859.5 821.5 L1861.6 821.9 L1863.6 822.2 L1865.5 821.9 L1867.5 822.0 L1869.4 821.9 L1871.6 822.1 L1873.8 821.9 L1876.0 822.1 L1879.3 821.6 L1881.3 821.8 L1883.4 821.7 L1885.0 822.7 L1887.1 822.9 L1889.2 822.9 L1891.0 823.0 L1892.7 822.7 L1894.5 822.6 L1896.3 822.5 L1898.1 822.4 L1900.1 822.7 L1902.0 822.8 L1903.9 822.8 L1906.4 822.7 L1908.8 822.8 L1912.1 821.5 L1914.0 821.3 L1915.8 821.1 L1917.6 820.7 L1919.5 820.9 L1921.5 820.9 L1923.6 821.5 L1926.1 820.6 L1927.9 820.9 L1929.8 821.0 L1931.6 821.4 L1933.5 821.5 L1934.4 822.0 L1937.6 819.8 L1939.5 819.7 L1941.4 819.6 L1943.3 819.8 L1945.8 819.4 L1948.3 819.1 L1951.6 820.0 L1954.1 819.6 L1956.5 819.6 L1959.0 819.7 L1961.4 820.1 L1963.6 820.3 L1965.8 820.4 L1968.0 820.0 L1969.9 820.5 L1971.9 820.6 L1973.8 820.6 L1975.8 820.2 L1977.9 819.1 L1979.9 819.5 L1982.0 819.2 L1984.0 819.2 L1986.1 818.9 L1988.3 818.9 L1990.4 819.3 L1992.6 819.4 L1994.8 819.4 L1997.0 819.6 L1999.2 819.4 L2001.7 820.5 L2003.6 820.6 L2005.5 820.3 L2007.4 820.3 L2009.5 819.9 L2011.6 820.3 L2013.6 820.0 L2015.7 820.1 L2017.7 820.0 L2019.8 819.9 L2021.8 819.8 L2023.9 820.0 L2027.2 818.5 L2029.7 818.4 L2032.2 818.1 L2034.4 818.3 L2036.6 817.8 L2038.7 817.6 L2040.8 817.3 L2042.8 816.7 L2044.9 816.3 L2046.9 815.9 L2049.0 815.8 L2051.0 815.6 L2053.1 815.6 L2055.1 816.2 L2057.0 815.3 L2059.0 815.6 L2060.9 815.1 L2062.8 815.8 L2064.8 816.1 L2066.7 816.9 L2069.1 816.5 L2071.6 815.6 L2074.0 815.2 L2076.5 813.6 L2078.6 814.1 L2080.7 814.2 L2083.1 811.3 L2085.6 808.2 L2087.6 809.0 L2089.6 810.7 L2092.1 809.1 L2094.5 809.1 L2097.0 808.4 L2099.5 809.1 L2101.7 808.9 L2103.9 809.7 L2106.1 811.1 L2108.1 809.9 L2110.1 809.9 L2112.0 810.1 L2114.0 809.7 L2116.0 808.6 L2118.2 808.9 L2120.4 808.8 L2122.6 809.1 L2124.7 809.6 L2126.9 810.0 L2129.1 810.7 L2131.3 811.2 L2133.5 811.5 L2135.7 812.9 L2138.1 810.7 L2140.6 809.5 L2142.8 811.1 L2145.0 811.8 L2147.2 813.2 L2149.4 812.3 L2151.6 811.7 L2153.8 810.7 L2156.0 812.1 L2158.1 812.3 L2160.3 813.2 L2162.4 812.2 L2164.4 811.3 L2166.5 810.7 L2168.6 810.3 L2171.0 810.6 L2173.5 811.5 L2175.7 811.1 L2177.9 810.3 L2180.1 808.6 L2182.1 809.4 L2184.2 808.2 L2186.2 806.3 L2188.2 804.8 L2190.7 802.6 L2193.1 802.5 L2195.4 802.1 L2197.6 802.6 L2199.8 801.3 L2203.1 799.3 L2206.4 801.9 L2208.5 802.8 L2210.5 803.1" fill="none" stroke="#3458b4" stroke-width="1.6"/>
<line x1="98.5" y1="792.5" x2="98.5" y2="834.7" stroke="#404040" stroke-width="2.5"/>
<rect x="94.0" y="800" width="9" height="27" rx="4" fill="#262626" stroke="#404040" stroke-width="3"/>
<line x1="2210" y1="792.5" x2="2210" y2="834.7" stroke="#404040" stroke-width="2.5"/>
<rect x="2205.5" y="800" width="9" height="27" rx="4" fill="#262626" stroke="#404040" stroke-width="3"/>
<rect x="92" y="596" width="2115" height="3.8" fill="#6cd26c"/>
<rect x="92" y="655.1" width="2115" height="3.8" fill="#e8584a"/>
<rect x="688.2" y="193" width="17.699999999999932" height="558" fill="rgb(160,200,93)" fill-opacity="0.4"/>
<rect x="780.9" y="193" width="28.800000000000068" height="558" fill="rgb(160,200,93)" fill-opacity="0.4"/>
<rect x="1282" y="193" width="29" height="558" fill="rgb(160,200,93)" fill-opacity="0.4"/>
<rect x="1473" y="193" width="14" height="558" fill="rgb(160,200,93)" fill-opacity="0.4"/>
<rect x="1817.2" y="193" width="91.0" height="558" fill="rgb(160,200,93)" fill-opacity="0.4"/>
<rect x="1998" y="193" width="24.299999999999955" height="558" fill="rgb(160,200,93)" fill-opacity="0.4"/>
<rect x="1037" y="193" width="18" height="558" fill="rgb(221,30,21)" fill-opacity="0.45"/>
<rect x="1565" y="193" width="18" height="558" fill="rgb(221,30,21)" fill-opacity="0.45"/>
<rect x="2064" y="193" width="18.300000000000182" height="558" fill="rgb(221,30,21)" fill-opacity="0.45"/>
<rect x="2178.2" y="193" width="17.800000000000182" height="558" fill="rgb(221,30,21)" fill-opacity="0.45"/>
</svg></body></html>
